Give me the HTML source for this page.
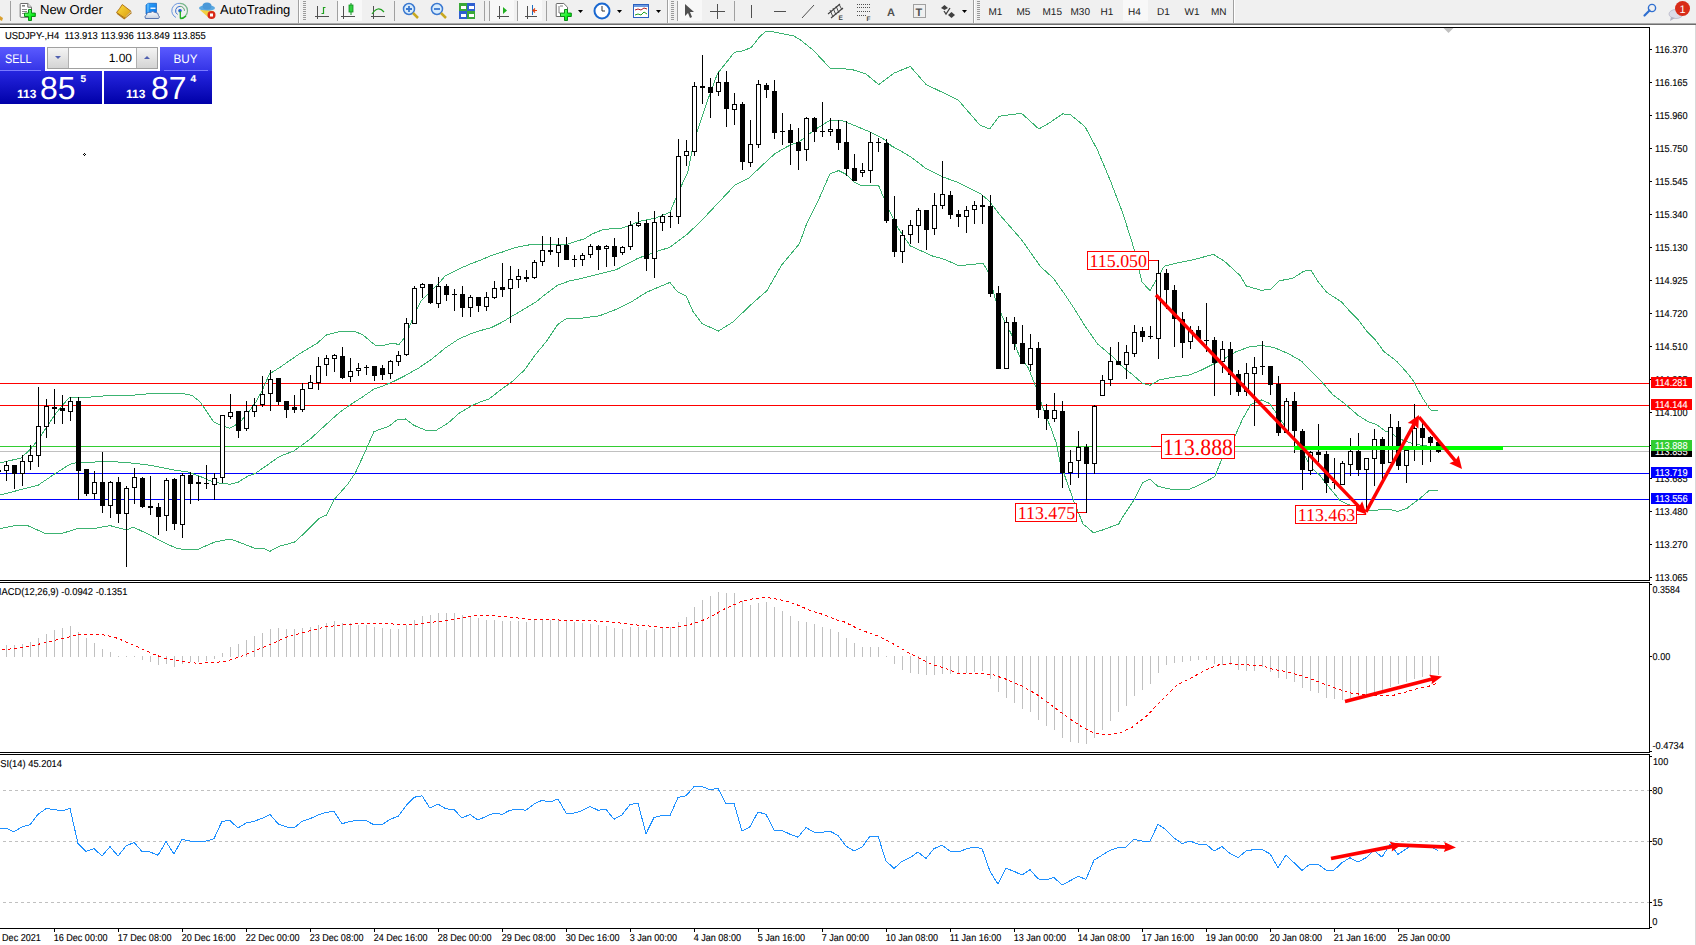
<!DOCTYPE html><html><head><meta charset="utf-8"><title>MT4 USDJPY H4</title>
<style>html,body{margin:0;padding:0;background:#fff;}body{width:1696px;height:945px;overflow:hidden;position:relative;font-family:"Liberation Sans",sans-serif;}svg{position:absolute;left:0;top:0;display:block;}text{white-space:pre;text-rendering:geometricPrecision;}</style>
</head><body>
<svg width="1696" height="945" viewBox="0 0 1696 945">
<rect x="0" y="0" width="1696" height="23" fill="#f0f0f0" />
<rect x="0" y="23" width="1696" height="1" fill="#a8a8a8" />
<rect x="0" y="24" width="1696" height="1" fill="#6e6e6e" />
<g id="toolbar">
<!-- cut icon at far left -->
<path d="M0,16 L3,18 L2,21 L0,20 Z" fill="#d9a030"/>
<!-- separators -->
<g shape-rendering="crispEdges" fill="#a0a0a0">
<rect x="10" y="1" width="1" height="20"/>
<rect x="298" y="0" width="1" height="23"/><rect x="299" y="0" width="1" height="23" fill="#fff"/>
<rect x="337" y="1" width="1" height="20"/>
<rect x="394" y="1" width="1" height="20"/>
<rect x="484" y="1" width="1" height="20"/>
<rect x="489" y="1" width="1" height="20"/>
<rect x="517" y="1" width="1" height="20"/>
<rect x="546" y="1" width="1" height="20"/>
<rect x="667" y="0" width="1" height="23"/><rect x="668" y="0" width="1" height="23" fill="#fff"/>
<rect x="677" y="1" width="1" height="20"/>
<rect x="734" y="1" width="1" height="20"/>
<rect x="973" y="0" width="1" height="23"/><rect x="974" y="0" width="1" height="23" fill="#fff"/>
<rect x="1233" y="0" width="1" height="23"/><rect x="1234" y="0" width="1" height="23" fill="#fff"/>
</g>
<!-- grips -->
<g fill="#9a9a9a" shape-rendering="crispEdges">
<rect x="303" y="1" width="3" height="1"/><rect x="303" y="3" width="3" height="1"/><rect x="303" y="5" width="3" height="1"/><rect x="303" y="7" width="3" height="1"/><rect x="303" y="9" width="3" height="1"/><rect x="303" y="11" width="3" height="1"/><rect x="303" y="13" width="3" height="1"/><rect x="303" y="15" width="3" height="1"/><rect x="303" y="17" width="3" height="1"/><rect x="303" y="19" width="3" height="1"/>
<rect x="671" y="1" width="3" height="1"/><rect x="671" y="3" width="3" height="1"/><rect x="671" y="5" width="3" height="1"/><rect x="671" y="7" width="3" height="1"/><rect x="671" y="9" width="3" height="1"/><rect x="671" y="11" width="3" height="1"/><rect x="671" y="13" width="3" height="1"/><rect x="671" y="15" width="3" height="1"/><rect x="671" y="17" width="3" height="1"/><rect x="671" y="19" width="3" height="1"/>
<rect x="977" y="1" width="3" height="1"/><rect x="977" y="3" width="3" height="1"/><rect x="977" y="5" width="3" height="1"/><rect x="977" y="7" width="3" height="1"/><rect x="977" y="9" width="3" height="1"/><rect x="977" y="11" width="3" height="1"/><rect x="977" y="13" width="3" height="1"/><rect x="977" y="15" width="3" height="1"/><rect x="977" y="17" width="3" height="1"/><rect x="977" y="19" width="3" height="1"/>
</g>
<!-- selected (checked) button backgrounds -->
<g fill="#f8f8f8" shape-rendering="crispEdges">
<rect x="338" y="0" width="24" height="21"/>
<rect x="490" y="0" width="24" height="21"/>
<rect x="518" y="0" width="24" height="21"/>
<rect x="678" y="0" width="24" height="21"/>
<rect x="1123" y="0" width="25" height="21"/>
</g>

<!-- New Order icon -->
<defs>
<linearGradient id="gplus" x1="0" y1="0" x2="1" y2="1"><stop offset="0" stop-color="#8cff8c"/><stop offset="0.6" stop-color="#10f020"/><stop offset="1" stop-color="#00c010"/></linearGradient>
<linearGradient id="gbook" x1="0" y1="0" x2="1" y2="1"><stop offset="0" stop-color="#ffe040"/><stop offset="1" stop-color="#d89a10"/></linearGradient>
<linearGradient id="gsrv" x1="0" y1="0" x2="1" y2="1"><stop offset="0" stop-color="#30a8ff"/><stop offset="1" stop-color="#0a70e0"/></linearGradient>
<linearGradient id="gcloud" x1="0" y1="0" x2="0" y2="1"><stop offset="0" stop-color="#ffffff"/><stop offset="1" stop-color="#c8d0e0"/></linearGradient>
</defs>
<path d="M21,3.5 h6.8 l3.7,3.7 v9.3 a0.8,0.8 0 0 1 -0.8,0.8 h-9.7 a0.8,0.8 0 0 1 -0.8,-0.8 v-12.2 a0.8,0.8 0 0 1 0.8,-0.8 z" fill="#fff" stroke="#6a6a6a" stroke-width="1"/>
<path d="M27.8,3.5 v3.7 h3.7" fill="#e8e8e8" stroke="#6a6a6a" stroke-width="1"/>
<rect x="22" y="5" width="3" height="1.6" fill="#808080"/>
<rect x="22" y="9" width="5" height="1" fill="#8a8a8a"/><rect x="22" y="11" width="5" height="1" fill="#8a8a8a"/><rect x="22" y="13" width="3" height="1" fill="#8a8a8a"/>
<path d="M28.5,9.5 h3 v3.6 h3.8 v3.4 h-3.8 v4 h-3 v-4 h-4 v-3.4 h4 z" fill="url(#gplus)" stroke="#0a8a14" stroke-width="1"/>
<text x="40" y="14.2" font-family="Liberation Sans" font-size="13" fill="#000">New Order</text>

<!-- yellow book icon -->
<path d="M116.5,12.5 Q119.5,9 122.3,4.5 L131,11.3 Q128,14.5 125,18.2 Z" fill="url(#gbook)" stroke="#a86a10" stroke-width="0.9"/>
<path d="M117,13.2 L124.2,18.8 L131.6,12.6" fill="none" stroke="#b07818" stroke-width="1.1"/>
<path d="M125.5,17 L130.5,12.2" stroke="#f0e0a0" stroke-width="0.8"/>
<!-- server/cloud icon -->
<path d="M146,5 L148,3.3 L156.5,3.3 L156.5,14 L146,14 Z" fill="url(#gsrv)" stroke="#1060c0" stroke-width="0.7"/>
<path d="M148,3.3 V12" stroke="#9ad8ff" stroke-width="0.8"/>
<rect x="150.5" y="7.5" width="5" height="1.5" fill="#e8f4ff"/>
<path d="M145.5,18.5 Q143.8,16 146.5,15 Q147,11.5 150.5,12.5 Q152.5,10.5 155,12.5 Q158.5,12 158.5,15.5 Q160.5,17 158.5,18.5 Z" fill="url(#gcloud)" stroke="#4a6aa8" stroke-width="0.9"/>
<!-- radio icon -->
<path d="M176,17.5 A7.5,7.5 0 0 1 180,3.3" fill="none" stroke="#4a80d8" stroke-width="1" opacity="0.8"/>
<path d="M177.5,14.5 A4.5,4.5 0 0 1 180,6.3" fill="none" stroke="#3a70d0" stroke-width="1"/>
<path d="M180,3.3 A7.5,7.5 0 0 1 187.5,10.8 A7.5,7.5 0 0 1 180.5,18.3" fill="none" stroke="#6ab080" stroke-width="1.2" opacity="0.9"/>
<path d="M180,6.3 A4.5,4.5 0 0 1 184.5,10.8" fill="none" stroke="#5aa070" stroke-width="1"/>
<circle cx="180" cy="10.8" r="1.8" fill="#2060d0"/>
<path d="M180.3,11 V18.6 M180.3,18.6 A7.8,7.8 0 0 0 186,16" fill="none" stroke="#20b020" stroke-width="1.3"/>
<!-- autotrading icon -->
<ellipse cx="207" cy="8" rx="8" ry="3" fill="#5aa8e0"/>
<ellipse cx="207" cy="6" rx="4.5" ry="3.5" fill="#4a98d8"/>
<path d="M200,10 L209,18 L214,11 Z" fill="#f0d040"/>
<circle cx="211.5" cy="15" r="4" fill="#d82818"/>
<rect x="210" y="13.5" width="3" height="3" fill="#fff"/>
<text x="220" y="14.2" font-family="Liberation Sans" font-size="13" fill="#000">AutoTrading</text>

<!-- bar chart icon -->
<g fill="none" stroke="#505050" stroke-width="1" shape-rendering="crispEdges">
<path d="M317.5,6 v13 M315,16.5 h14"/>
<path d="M343.5,6 v13 M341,16.5 h14"/>
<path d="M373.5,6 v13 M371,16.5 h14"/>
<path d="M499.5,6 v13 M497,16.5 h12"/>
<path d="M527.5,6 v13 M525,16.5 h12"/>
</g>
<path d="M321.5,13.5 h2 v-6 h2" fill="none" stroke="#20a020" stroke-width="1.2"/>
<rect x="349" y="5" width="4" height="7" fill="#30d040" stroke="#109020" stroke-width="0.8"/>
<path d="M351,3 v2 M351,12 v3" stroke="#109020" stroke-width="1"/>
<path d="M372,14 Q378,5 384,12" fill="none" stroke="#20a020" stroke-width="1.2"/>
<path d="M503,7 L507,10.5 L503,14 Z" fill="#20b020"/>
<path d="M532.5,5 v10" stroke="#2070c0" stroke-width="1"/>
<path d="M537,10.5 L533,10.5 M535,8.5 L533,10.5 L535,12.5" fill="none" stroke="#e04010" stroke-width="1.2"/>

<!-- zoom icons -->
<circle cx="409" cy="9" r="5.5" fill="#d8ecfc" stroke="#3a78d0" stroke-width="1.5"/>
<path d="M406,9 h6 M409,6 v6" stroke="#3a78d0" stroke-width="1.8"/>
<path d="M413,13 L418,18" stroke="#c8a820" stroke-width="2.5"/>
<circle cx="437" cy="9" r="5.5" fill="#d8ecfc" stroke="#3a78d0" stroke-width="1.5"/>
<path d="M434,9 h6" stroke="#3a78d0" stroke-width="1.8"/>
<path d="M441,13 L446,18" stroke="#c8a820" stroke-width="2.5"/>

<!-- tile icon -->
<rect x="459" y="3" width="8" height="8" fill="#3aa838"/><rect x="467" y="3" width="8" height="8" fill="#2f5fd0"/>
<rect x="459" y="11" width="8" height="8" fill="#2f5fd0"/><rect x="467" y="11" width="8" height="8" fill="#3aa838"/>
<g fill="#fff"><rect x="461" y="6" width="5" height="3"/><rect x="469" y="6" width="5" height="3"/><rect x="461" y="14" width="5" height="3"/><rect x="469" y="14" width="5" height="3"/></g>

<!-- indicators icon -->
<path d="M557,3.5 h6.8 l3.7,3.7 v9.3 h-11.3 v-12.2 a0.8,0.8 0 0 1 0.8,-0.8 z" fill="#fff" stroke="#6a6a6a" stroke-width="1"/>
<path d="M559,6 v7 h1.5 M560,6 h3" fill="none" stroke="#707070" stroke-width="0.9"/>
<path d="M564.5,9.5 h3 v3.6 h3.8 v3.4 h-3.8 v4 h-3 v-4 h-4 v-3.4 h4 z" fill="url(#gplus)" stroke="#0a8a14" stroke-width="1"/>
<path d="M578,10 h5 l-2.5,3 z" fill="#000"/>
<!-- clock -->
<circle cx="602" cy="11" r="7.5" fill="#fff" stroke="#1a68d0" stroke-width="2"/>
<path d="M602,6 v5 h3" fill="none" stroke="#333" stroke-width="1"/>
<path d="M617,10 h5 l-2.5,3 z" fill="#000"/>
<!-- templates -->
<rect x="633.5" y="4.5" width="15" height="13" fill="#fff" stroke="#2a60c0" stroke-width="1"/>
<rect x="634" y="5" width="14" height="2" fill="#6a9ae0"/>
<path d="M635,10 l3,-1 l3,1 l3,-2 l3,1" fill="none" stroke="#b02020" stroke-width="1"/>
<path d="M635,15 l3,-1 l3,1 l3,-3 l3,2" fill="none" stroke="#20a020" stroke-width="1"/>
<path d="M656,10 h5 l-2.5,3 z" fill="#000"/>

<!-- cursor -->
<path d="M685,4 L685,16 L688,13 L690,18 L692,17 L690,12 L694,12 Z" fill="#505050"/>
<!-- crosshair -->
<path d="M717.5,4 v15 M710,11.5 h15" stroke="#505050" stroke-width="1" shape-rendering="crispEdges"/>
<!-- vline, hline, trendline -->
<path d="M751.5,5 v13" stroke="#505050" stroke-width="1" shape-rendering="crispEdges"/>
<path d="M774,11.5 h12" stroke="#505050" stroke-width="1" shape-rendering="crispEdges"/>
<path d="M802,18 L814,5" stroke="#505050" stroke-width="1"/>
<!-- channel E -->
<path d="M828,14 L840,4 M831,18 L843,8" stroke="#404040" stroke-width="1.1"/>
<path d="M830,10 L833,17 M833,8 L836,15 M836,6 L839,13 M839,4 L842,10" stroke="#404040" stroke-width="0.9"/>
<text x="838.5" y="20" font-family="Liberation Sans" font-size="6.5" font-weight="bold" fill="#404040">E</text>
<!-- fibo F -->
<g fill="#505050" shape-rendering="crispEdges">
<rect x="857" y="4" width="1" height="1"/><rect x="859" y="4" width="1" height="1"/><rect x="861" y="4" width="1" height="1"/><rect x="863" y="4" width="1" height="1"/><rect x="865" y="4" width="1" height="1"/><rect x="867" y="4" width="1" height="1"/><rect x="869" y="4" width="1" height="1"/>
<rect x="857" y="7" width="1" height="1"/><rect x="859" y="7" width="1" height="1"/><rect x="861" y="7" width="1" height="1"/><rect x="863" y="7" width="1" height="1"/><rect x="865" y="7" width="1" height="1"/><rect x="867" y="7" width="1" height="1"/><rect x="869" y="7" width="1" height="1"/>
<rect x="857" y="11" width="1" height="1"/><rect x="859" y="11" width="1" height="1"/><rect x="861" y="11" width="1" height="1"/><rect x="863" y="11" width="1" height="1"/><rect x="865" y="11" width="1" height="1"/><rect x="867" y="11" width="1" height="1"/><rect x="869" y="11" width="1" height="1"/>
<rect x="857" y="15" width="1" height="1"/><rect x="859" y="15" width="1" height="1"/><rect x="861" y="15" width="1" height="1"/><rect x="863" y="15" width="1" height="1"/><rect x="865" y="15" width="1" height="1"/>
</g>
<text x="866.5" y="20.5" font-family="Liberation Sans" font-size="6.5" font-weight="bold" fill="#404040">F</text>
<!-- A -->
<text x="887" y="16" font-family="Liberation Sans" font-size="11" font-weight="bold" fill="#505050">A</text>
<!-- T box -->
<rect x="913.5" y="4.5" width="12" height="13" fill="none" stroke="#505050" stroke-width="1" stroke-dasharray="1 1"/>
<text x="915.5" y="16" font-family="Liberation Sans" font-size="11" font-weight="bold" fill="#505050">T</text>
<!-- arrows icon -->
<path d="M941,8 L944.5,5 L948,8 L944.5,10 Z" fill="#404040"/>
<path d="M944,11 L946,14 L950,8" fill="none" stroke="#404040" stroke-width="1.3"/>
<path d="M948,15 L951.5,12 L955,15 L951.5,18 Z" fill="#404040"/>
<path d="M962,10 h5 l-2.5,3 z" fill="#000"/>

<!-- timeframes -->
<g font-family="Liberation Sans" font-size="10" fill="#202020">
<text x="988.5" y="15">M1</text>
<text x="1016.5" y="15">M5</text>
<text x="1042.5" y="15">M15</text>
<text x="1070.5" y="15">M30</text>
<text x="1100.5" y="15">H1</text>
<text x="1128" y="15">H4</text>
<text x="1157" y="15">D1</text>
<text x="1184.5" y="15">W1</text>
<text x="1211" y="15">MN</text>
</g>

<!-- search icon -->
<circle cx="1652" cy="8" r="3.6" fill="none" stroke="#2f6fd0" stroke-width="1.4"/>
<path d="M1649.5,10.5 L1644.5,15.5" stroke="#2f6fd0" stroke-width="2.2" stroke-linecap="round"/>
<!-- notification bubble -->
<ellipse cx="1676" cy="14" rx="7" ry="4.5" fill="#dcdce8" stroke="#b8b8c8" stroke-width="0.8"/>
<path d="M1671,17 L1670,21 L1675,18 Z" fill="#b0b0c0"/>
<circle cx="1682.5" cy="8.5" r="7.5" fill="#d82c18"/>
<text x="1682.5" y="13" font-family="Liberation Sans" font-size="11" fill="#fff" text-anchor="middle">1</text>
</g>

<rect x="1695" y="25" width="1" height="920" fill="#d9d9d9" />
<g shape-rendering="crispEdges">
<rect x="0" y="27" width="1650" height="1" fill="#000"/>
<rect x="1649" y="27" width="1" height="554" fill="#000"/>
<rect x="1649" y="582" width="1" height="171" fill="#000"/>
<rect x="1649" y="754" width="1" height="175" fill="#000"/>
<rect x="0" y="580" width="1650" height="1" fill="#000"/>
<rect x="0" y="582" width="1650" height="1" fill="#000"/>
<rect x="0" y="752" width="1650" height="1" fill="#000"/>
<rect x="0" y="754" width="1650" height="1" fill="#000"/>
<rect x="0" y="928" width="1650" height="1" fill="#000"/>
<rect x="0" y="383" width="1649" height="1" fill="#ff0000"/>
<rect x="0" y="405" width="1649" height="1" fill="#ff0000"/>
<rect x="0" y="446" width="1649" height="1" fill="#32cd32"/>
<rect x="0" y="451" width="1649" height="1" fill="#c0c0c0"/>
<rect x="0" y="473" width="1649" height="1" fill="#0000ff"/>
<rect x="0" y="499" width="1649" height="1" fill="#0000ff"/>
</g>
<polygon points="1443.5,28 1453.5,28 1448.5,33" fill="#c0c0c0"/>
<g shape-rendering="crispEdges"><rect x="84" y="153" width="1" height="1" fill="#000"/><rect x="83" y="154" width="1" height="1" fill="#000"/><rect x="85" y="154" width="1" height="1" fill="#000"/><rect x="84" y="155" width="1" height="1" fill="#000"/></g>
<g shape-rendering="crispEdges">
<polyline points="0.0,463.0 21.0,458.0 29.6,450.0 38.0,440.0 46.6,427.0 55.0,414.4 63.5,404.0 70.0,397.0 91.0,397.0 110.0,395.4 131.0,395.4 152.0,393.5 181.7,393.3 192.0,395.4 200.0,401.7 207.0,412.0 213.5,421.8 220.0,425.0 230.0,428.2 239.0,423.0 247.0,414.4 256.0,401.7 262.0,391.0 269.5,373.8 279.0,368.0 298.0,354.8 317.0,343.3 326.7,334.8 340.0,331.5 355.0,331.5 362.9,334.8 370.5,341.4 376.0,345.8 383.0,345.6 392.0,343.3 399.0,344.4 405.5,336.7 414.4,314.4 421.0,301.0 427.8,294.4 436.7,285.6 445.5,275.6 459.0,268.9 472.0,263.3 481.0,260.0 491.0,255.6 502.0,252.2 513.0,248.2 524.4,245.6 535.6,244.0 546.7,244.0 557.8,244.4 566.7,244.4 573.0,242.2 584.4,238.9 592.0,234.0 603.4,229.4 623.2,227.9 639.4,221.3 655.5,218.2 669.9,212.3 677.1,195.2 682.5,183.5 687.9,171.8 693.7,142.3 698.5,127.4 707.0,102.0 717.5,73.5 726.0,62.9 734.4,52.3 742.9,50.8 751.3,47.5 759.8,36.5 766.0,31.2 770.4,31.2 783.0,33.9 793.7,36.0 800.0,39.6 813.0,50.0 830.0,68.0 843.0,68.6 853.5,70.0 866.0,74.0 878.6,84.6 894.4,72.9 910.3,66.5 926.2,84.6 958.0,99.8 980.0,125.2 989.7,129.0 999.2,116.3 1021.4,113.2 1038.9,129.0 1050.0,122.5 1062.7,113.8 1070.6,114.8 1084.9,126.5 1097.6,150.3 1110.3,180.5 1123.0,213.8 1134.0,248.7 1142.0,282.0 1150.0,290.6 1164.3,266.2 1177.0,263.0 1192.9,259.8 1213.5,254.4 1224.6,261.4 1240.0,275.5 1246.4,286.1 1261.2,290.3 1270.7,289.3 1279.2,280.8 1292.9,278.3 1303.5,271.3 1310.9,270.2 1318.3,281.9 1326.8,292.4 1341.6,302.0 1350.0,311.5 1358.5,320.0 1367.0,331.6 1375.5,340.1 1384.0,351.7 1396.6,361.2 1407.2,372.9 1413.6,381.4 1422.0,397.2 1430.5,409.9 1438.0,411.0" fill="none" stroke="#3cb371" stroke-width="1" />
<polyline points="0.0,495.0 21.0,489.6 38.0,485.3 55.0,473.7 70.0,464.2 75.0,463.0 95.0,462.0 110.0,461.4 131.0,463.0 150.0,465.2 171.0,469.5 188.0,472.0 200.0,476.3 212.7,481.9 220.6,483.2 230.2,484.3 238.1,482.2 247.6,476.3 255.6,473.2 268.3,464.4 279.4,456.5 293.7,451.0 301.6,445.4 311.1,438.3 320.6,429.5 330.2,420.8 340.0,412.0 351.4,404.0 362.9,396.7 374.0,389.0 381.0,386.7 392.0,382.2 405.5,375.5 419.0,367.8 432.0,358.9 445.5,347.8 459.0,338.9 472.0,333.3 481.0,330.4 491.0,327.8 502.0,322.2 513.0,315.6 524.4,308.9 535.6,302.2 546.7,293.3 557.8,285.1 569.0,281.1 580.0,278.8 598.0,274.3 616.0,269.8 637.6,258.5 655.5,251.8 669.9,247.3 687.9,233.8 705.9,215.9 734.7,185.3 749.0,178.1 759.8,167.6 774.6,153.9 787.3,146.5 800.0,141.2 815.4,129.3 830.0,120.2 843.0,120.9 853.5,125.1 870.4,132.1 883.0,138.4 891.5,146.0 900.0,150.5 911.0,157.0 926.0,168.6 943.0,177.0 957.7,182.3 981.0,194.0 989.4,201.3 1000.0,215.1 1021.4,239.5 1040.5,266.5 1053.5,278.5 1064.0,293.3 1074.6,309.1 1085.0,326.0 1097.6,344.0 1111.2,355.4 1121.7,366.0 1132.3,374.4 1141.9,382.9 1149.9,385.4 1159.8,379.7 1174.7,377.0 1189.5,374.9 1200.0,370.7 1212.7,364.4 1225.4,358.1 1236.0,351.7 1248.7,347.1 1261.4,345.4 1274.0,347.5 1288.9,353.9 1301.6,361.3 1314.3,374.0 1320.4,380.3 1333.1,395.1 1340.0,400.0 1346.8,405.5 1357.8,415.1 1367.4,421.3 1377.0,424.8 1385.3,431.0 1390.8,432.3 1396.3,437.4 1405.2,441.1 1414.0,444.0 1423.0,445.6 1438.0,447.0" fill="none" stroke="#3cb371" stroke-width="1" />
<polyline points="0.0,528.7 15.0,525.6 27.5,525.6 46.6,534.0 63.5,533.0 78.0,528.3 95.0,528.3 110.0,525.6 127.0,530.0 133.0,527.0 148.0,534.0 162.7,541.9 177.5,548.8 196.6,549.9 214.3,542.2 230.2,539.0 241.3,543.0 254.8,548.3 263.5,548.3 269.8,551.4 279.4,546.2 294.4,542.2 303.2,534.3 319.0,518.4 326.2,515.2 334.9,498.6 347.6,484.3 355.6,472.4 365.1,451.7 373.8,431.9 379.4,429.5 388.9,426.3 396.8,420.0 405.5,418.9 414.4,425.6 427.8,431.0 436.7,430.0 447.8,423.3 459.0,413.3 472.0,405.6 481.0,401.6 489.0,398.9 502.0,388.9 513.0,381.0 524.4,370.0 535.6,354.4 546.7,341.1 557.8,324.4 566.7,318.4 580.0,318.4 599.8,315.7 616.0,309.4 632.2,301.3 646.5,292.3 659.1,286.9 669.9,282.4 677.1,291.4 686.1,295.9 693.3,312.1 702.3,323.8 718.5,331.0 732.9,322.0 752.7,303.1 767.1,290.5 781.4,265.3 799.4,243.7 806.6,224.0 817.4,202.4 830.0,173.7 838.7,170.6 847.0,174.8 853.4,181.7 862.4,186.0 878.6,185.6 888.0,207.8 898.5,228.9 910.3,245.9 932.5,256.0 945.0,259.5 958.0,265.4 970.4,264.8 983.0,263.0 988.4,272.2 995.8,300.8 1002.7,317.6 1011.0,333.5 1019.6,356.7 1028.0,367.3 1036.5,388.5 1045.0,413.9 1051.3,429.0 1056.4,443.5 1059.6,460.4 1066.0,479.4 1074.4,502.7 1083.0,523.9 1093.5,532.7 1102.0,530.2 1118.8,523.9 1121.7,518.4 1134.4,499.3 1142.9,482.4 1149.9,479.2 1157.7,486.2 1170.4,489.2 1189.5,489.2 1200.0,484.7 1214.8,476.6 1223.3,455.4 1233.9,438.5 1242.3,419.5 1250.8,404.7 1261.4,400.0 1269.8,403.6 1276.2,413.1 1284.7,425.8 1293.1,438.5 1301.6,451.2 1312.2,468.1 1320.0,475.6 1327.5,485.3 1339.9,500.4 1348.9,504.8 1366.7,510.7 1388.9,509.3 1397.8,511.5 1406.7,508.5 1418.5,499.6 1428.9,490.7 1438.0,490.4" fill="none" stroke="#3cb371" stroke-width="1" />
</g>
<g shape-rendering="crispEdges">
<rect x="-2" y="470" width="1" height="2" fill="#000"/>
<rect x="-4" y="470" width="5" height="2" fill="#000"/>
<rect x="6" y="461" width="1" height="20" fill="#000"/>
<rect x="4" y="465" width="5" height="6" fill="#000"/>
<rect x="5" y="466" width="3" height="4" fill="#fff"/>
<rect x="14" y="465" width="1" height="24" fill="#000"/>
<rect x="12" y="465" width="5" height="9" fill="#000"/>
<rect x="22" y="455" width="1" height="31" fill="#000"/>
<rect x="20" y="461" width="5" height="13" fill="#000"/>
<rect x="21" y="462" width="3" height="11" fill="#fff"/>
<rect x="30" y="445" width="1" height="25" fill="#000"/>
<rect x="28" y="455" width="5" height="7" fill="#000"/>
<rect x="29" y="456" width="3" height="5" fill="#fff"/>
<rect x="38" y="387" width="1" height="80" fill="#000"/>
<rect x="36" y="426" width="5" height="30" fill="#000"/>
<rect x="37" y="427" width="3" height="28" fill="#fff"/>
<rect x="46" y="399" width="1" height="39" fill="#000"/>
<rect x="44" y="406" width="5" height="21" fill="#000"/>
<rect x="45" y="407" width="3" height="19" fill="#fff"/>
<rect x="54" y="389" width="1" height="35" fill="#000"/>
<rect x="52" y="407" width="5" height="2" fill="#000"/>
<rect x="62" y="395" width="1" height="29" fill="#000"/>
<rect x="60" y="408" width="5" height="3" fill="#000"/>
<rect x="70" y="397" width="1" height="24" fill="#000"/>
<rect x="68" y="401" width="5" height="11" fill="#000"/>
<rect x="69" y="402" width="3" height="9" fill="#fff"/>
<rect x="78" y="397" width="1" height="103" fill="#000"/>
<rect x="76" y="401" width="5" height="70" fill="#000"/>
<rect x="86" y="469" width="1" height="27" fill="#000"/>
<rect x="84" y="469" width="5" height="25" fill="#000"/>
<rect x="94" y="471" width="1" height="28" fill="#000"/>
<rect x="92" y="482" width="5" height="12" fill="#000"/>
<rect x="93" y="483" width="3" height="10" fill="#fff"/>
<rect x="102" y="452" width="1" height="61" fill="#000"/>
<rect x="100" y="482" width="5" height="24" fill="#000"/>
<rect x="110" y="481" width="1" height="37" fill="#000"/>
<rect x="108" y="482" width="5" height="24" fill="#000"/>
<rect x="109" y="483" width="3" height="22" fill="#fff"/>
<rect x="118" y="477" width="1" height="46" fill="#000"/>
<rect x="116" y="482" width="5" height="32" fill="#000"/>
<rect x="126" y="486" width="1" height="81" fill="#000"/>
<rect x="124" y="488" width="5" height="26" fill="#000"/>
<rect x="125" y="489" width="3" height="24" fill="#fff"/>
<rect x="134" y="468" width="1" height="36" fill="#000"/>
<rect x="132" y="477" width="5" height="11" fill="#000"/>
<rect x="133" y="478" width="3" height="9" fill="#fff"/>
<rect x="142" y="477" width="1" height="31" fill="#000"/>
<rect x="140" y="478" width="5" height="29" fill="#000"/>
<rect x="150" y="476" width="1" height="39" fill="#000"/>
<rect x="148" y="506" width="5" height="2" fill="#000"/>
<rect x="158" y="503" width="1" height="32" fill="#000"/>
<rect x="156" y="507" width="5" height="10" fill="#000"/>
<rect x="166" y="478" width="1" height="53" fill="#000"/>
<rect x="164" y="480" width="5" height="36" fill="#000"/>
<rect x="165" y="481" width="3" height="34" fill="#fff"/>
<rect x="174" y="478" width="1" height="52" fill="#000"/>
<rect x="172" y="479" width="5" height="45" fill="#000"/>
<rect x="182" y="473" width="1" height="65" fill="#000"/>
<rect x="180" y="475" width="5" height="50" fill="#000"/>
<rect x="181" y="476" width="3" height="48" fill="#fff"/>
<rect x="190" y="472" width="1" height="32" fill="#000"/>
<rect x="188" y="475" width="5" height="9" fill="#000"/>
<rect x="198" y="476" width="1" height="25" fill="#000"/>
<rect x="196" y="482" width="5" height="2" fill="#000"/>
<rect x="206" y="465" width="1" height="24" fill="#000"/>
<rect x="204" y="483" width="5" height="1" fill="#000"/>
<rect x="214" y="473" width="1" height="27" fill="#000"/>
<rect x="212" y="478" width="5" height="7" fill="#000"/>
<rect x="213" y="479" width="3" height="5" fill="#fff"/>
<rect x="222" y="415" width="1" height="68" fill="#000"/>
<rect x="220" y="415" width="5" height="63" fill="#000"/>
<rect x="221" y="416" width="3" height="61" fill="#fff"/>
<rect x="230" y="394" width="1" height="25" fill="#000"/>
<rect x="228" y="412" width="5" height="5" fill="#000"/>
<rect x="229" y="413" width="3" height="3" fill="#fff"/>
<rect x="238" y="411" width="1" height="27" fill="#000"/>
<rect x="236" y="411" width="5" height="20" fill="#000"/>
<rect x="246" y="401" width="1" height="30" fill="#000"/>
<rect x="244" y="411" width="5" height="18" fill="#000"/>
<rect x="245" y="412" width="3" height="16" fill="#fff"/>
<rect x="254" y="398" width="1" height="19" fill="#000"/>
<rect x="252" y="405" width="5" height="7" fill="#000"/>
<rect x="253" y="406" width="3" height="5" fill="#fff"/>
<rect x="262" y="376" width="1" height="31" fill="#000"/>
<rect x="260" y="394" width="5" height="11" fill="#000"/>
<rect x="261" y="395" width="3" height="9" fill="#fff"/>
<rect x="270" y="370" width="1" height="41" fill="#000"/>
<rect x="268" y="379" width="5" height="15" fill="#000"/>
<rect x="269" y="380" width="3" height="13" fill="#fff"/>
<rect x="278" y="378" width="1" height="27" fill="#000"/>
<rect x="276" y="378" width="5" height="24" fill="#000"/>
<rect x="286" y="401" width="1" height="17" fill="#000"/>
<rect x="284" y="401" width="5" height="9" fill="#000"/>
<rect x="294" y="395" width="1" height="18" fill="#000"/>
<rect x="292" y="407" width="5" height="3" fill="#000"/>
<rect x="302" y="383" width="1" height="29" fill="#000"/>
<rect x="300" y="389" width="5" height="21" fill="#000"/>
<rect x="301" y="390" width="3" height="19" fill="#fff"/>
<rect x="310" y="375" width="1" height="14" fill="#000"/>
<rect x="308" y="382" width="5" height="7" fill="#000"/>
<rect x="309" y="383" width="3" height="5" fill="#fff"/>
<rect x="318" y="357" width="1" height="33" fill="#000"/>
<rect x="316" y="366" width="5" height="17" fill="#000"/>
<rect x="317" y="367" width="3" height="15" fill="#fff"/>
<rect x="326" y="355" width="1" height="21" fill="#000"/>
<rect x="324" y="358" width="5" height="7" fill="#000"/>
<rect x="325" y="359" width="3" height="5" fill="#fff"/>
<rect x="334" y="354" width="1" height="18" fill="#000"/>
<rect x="332" y="355" width="5" height="4" fill="#000"/>
<rect x="333" y="356" width="3" height="2" fill="#fff"/>
<rect x="342" y="347" width="1" height="32" fill="#000"/>
<rect x="340" y="356" width="5" height="22" fill="#000"/>
<rect x="350" y="358" width="1" height="24" fill="#000"/>
<rect x="348" y="371" width="5" height="6" fill="#000"/>
<rect x="349" y="372" width="3" height="4" fill="#fff"/>
<rect x="358" y="363" width="1" height="13" fill="#000"/>
<rect x="356" y="368" width="5" height="3" fill="#000"/>
<rect x="357" y="369" width="3" height="1" fill="#fff"/>
<rect x="366" y="365" width="1" height="10" fill="#000"/>
<rect x="364" y="367" width="5" height="1" fill="#000"/>
<rect x="374" y="366" width="1" height="15" fill="#000"/>
<rect x="372" y="366" width="5" height="10" fill="#000"/>
<rect x="382" y="365" width="1" height="15" fill="#000"/>
<rect x="380" y="368" width="5" height="7" fill="#000"/>
<rect x="390" y="360" width="1" height="19" fill="#000"/>
<rect x="388" y="361" width="5" height="13" fill="#000"/>
<rect x="389" y="362" width="3" height="11" fill="#fff"/>
<rect x="398" y="351" width="1" height="15" fill="#000"/>
<rect x="396" y="355" width="5" height="7" fill="#000"/>
<rect x="397" y="356" width="3" height="5" fill="#fff"/>
<rect x="406" y="318" width="1" height="38" fill="#000"/>
<rect x="404" y="323" width="5" height="32" fill="#000"/>
<rect x="405" y="324" width="3" height="30" fill="#fff"/>
<rect x="414" y="286" width="1" height="38" fill="#000"/>
<rect x="412" y="288" width="5" height="36" fill="#000"/>
<rect x="413" y="289" width="3" height="34" fill="#fff"/>
<rect x="422" y="283" width="1" height="15" fill="#000"/>
<rect x="420" y="284" width="5" height="4" fill="#000"/>
<rect x="421" y="285" width="3" height="2" fill="#fff"/>
<rect x="430" y="284" width="1" height="20" fill="#000"/>
<rect x="428" y="284" width="5" height="19" fill="#000"/>
<rect x="438" y="277" width="1" height="31" fill="#000"/>
<rect x="436" y="286" width="5" height="18" fill="#000"/>
<rect x="437" y="287" width="3" height="16" fill="#fff"/>
<rect x="446" y="284" width="1" height="17" fill="#000"/>
<rect x="444" y="286" width="5" height="9" fill="#000"/>
<rect x="454" y="289" width="1" height="22" fill="#000"/>
<rect x="452" y="294" width="5" height="1" fill="#000"/>
<rect x="462" y="286" width="1" height="31" fill="#000"/>
<rect x="460" y="294" width="5" height="14" fill="#000"/>
<rect x="470" y="295" width="1" height="22" fill="#000"/>
<rect x="468" y="297" width="5" height="11" fill="#000"/>
<rect x="469" y="298" width="3" height="9" fill="#fff"/>
<rect x="478" y="297" width="1" height="15" fill="#000"/>
<rect x="476" y="297" width="5" height="9" fill="#000"/>
<rect x="486" y="292" width="1" height="19" fill="#000"/>
<rect x="484" y="297" width="5" height="10" fill="#000"/>
<rect x="485" y="298" width="3" height="8" fill="#fff"/>
<rect x="494" y="281" width="1" height="18" fill="#000"/>
<rect x="492" y="288" width="5" height="10" fill="#000"/>
<rect x="493" y="289" width="3" height="8" fill="#fff"/>
<rect x="502" y="263" width="1" height="34" fill="#000"/>
<rect x="500" y="287" width="5" height="3" fill="#000"/>
<rect x="510" y="266" width="1" height="57" fill="#000"/>
<rect x="508" y="279" width="5" height="10" fill="#000"/>
<rect x="509" y="280" width="3" height="8" fill="#fff"/>
<rect x="518" y="269" width="1" height="19" fill="#000"/>
<rect x="516" y="276" width="5" height="4" fill="#000"/>
<rect x="517" y="277" width="3" height="2" fill="#fff"/>
<rect x="526" y="270" width="1" height="12" fill="#000"/>
<rect x="524" y="277" width="5" height="2" fill="#000"/>
<rect x="534" y="260" width="1" height="19" fill="#000"/>
<rect x="532" y="262" width="5" height="16" fill="#000"/>
<rect x="533" y="263" width="3" height="14" fill="#fff"/>
<rect x="542" y="236" width="1" height="30" fill="#000"/>
<rect x="540" y="250" width="5" height="12" fill="#000"/>
<rect x="541" y="251" width="3" height="10" fill="#fff"/>
<rect x="550" y="237" width="1" height="18" fill="#000"/>
<rect x="548" y="250" width="5" height="2" fill="#000"/>
<rect x="558" y="238" width="1" height="29" fill="#000"/>
<rect x="556" y="245" width="5" height="8" fill="#000"/>
<rect x="557" y="246" width="3" height="6" fill="#fff"/>
<rect x="566" y="237" width="1" height="23" fill="#000"/>
<rect x="564" y="245" width="5" height="15" fill="#000"/>
<rect x="574" y="255" width="1" height="12" fill="#000"/>
<rect x="572" y="259" width="5" height="1" fill="#000"/>
<rect x="582" y="253" width="1" height="13" fill="#000"/>
<rect x="580" y="255" width="5" height="5" fill="#000"/>
<rect x="581" y="256" width="3" height="3" fill="#fff"/>
<rect x="590" y="244" width="1" height="14" fill="#000"/>
<rect x="588" y="246" width="5" height="9" fill="#000"/>
<rect x="589" y="247" width="3" height="7" fill="#fff"/>
<rect x="598" y="245" width="1" height="25" fill="#000"/>
<rect x="596" y="246" width="5" height="4" fill="#000"/>
<rect x="606" y="245" width="1" height="22" fill="#000"/>
<rect x="604" y="246" width="5" height="3" fill="#000"/>
<rect x="605" y="247" width="3" height="1" fill="#fff"/>
<rect x="614" y="238" width="1" height="28" fill="#000"/>
<rect x="612" y="246" width="5" height="11" fill="#000"/>
<rect x="622" y="246" width="1" height="9" fill="#000"/>
<rect x="620" y="247" width="5" height="6" fill="#000"/>
<rect x="621" y="248" width="3" height="4" fill="#fff"/>
<rect x="630" y="221" width="1" height="29" fill="#000"/>
<rect x="628" y="225" width="5" height="22" fill="#000"/>
<rect x="629" y="226" width="3" height="20" fill="#fff"/>
<rect x="638" y="212" width="1" height="15" fill="#000"/>
<rect x="636" y="223" width="5" height="3" fill="#000"/>
<rect x="637" y="224" width="3" height="1" fill="#fff"/>
<rect x="646" y="220" width="1" height="51" fill="#000"/>
<rect x="644" y="223" width="5" height="36" fill="#000"/>
<rect x="654" y="211" width="1" height="67" fill="#000"/>
<rect x="652" y="222" width="5" height="37" fill="#000"/>
<rect x="653" y="223" width="3" height="35" fill="#fff"/>
<rect x="662" y="214" width="1" height="17" fill="#000"/>
<rect x="660" y="216" width="5" height="7" fill="#000"/>
<rect x="661" y="217" width="3" height="5" fill="#fff"/>
<rect x="670" y="212" width="1" height="16" fill="#000"/>
<rect x="668" y="216" width="5" height="1" fill="#000"/>
<rect x="678" y="139" width="1" height="85" fill="#000"/>
<rect x="676" y="156" width="5" height="61" fill="#000"/>
<rect x="677" y="157" width="3" height="59" fill="#fff"/>
<rect x="686" y="140" width="1" height="26" fill="#000"/>
<rect x="684" y="151" width="5" height="5" fill="#000"/>
<rect x="685" y="152" width="3" height="3" fill="#fff"/>
<rect x="694" y="82" width="1" height="74" fill="#000"/>
<rect x="692" y="86" width="5" height="66" fill="#000"/>
<rect x="693" y="87" width="3" height="64" fill="#fff"/>
<rect x="702" y="55" width="1" height="49" fill="#000"/>
<rect x="700" y="86" width="5" height="2" fill="#000"/>
<rect x="710" y="78" width="1" height="40" fill="#000"/>
<rect x="708" y="87" width="5" height="6" fill="#000"/>
<rect x="718" y="72" width="1" height="24" fill="#000"/>
<rect x="716" y="82" width="5" height="10" fill="#000"/>
<rect x="717" y="83" width="3" height="8" fill="#fff"/>
<rect x="726" y="71" width="1" height="56" fill="#000"/>
<rect x="724" y="82" width="5" height="27" fill="#000"/>
<rect x="734" y="93" width="1" height="32" fill="#000"/>
<rect x="732" y="104" width="5" height="6" fill="#000"/>
<rect x="733" y="105" width="3" height="4" fill="#fff"/>
<rect x="742" y="102" width="1" height="68" fill="#000"/>
<rect x="740" y="104" width="5" height="58" fill="#000"/>
<rect x="750" y="120" width="1" height="47" fill="#000"/>
<rect x="748" y="144" width="5" height="19" fill="#000"/>
<rect x="749" y="145" width="3" height="17" fill="#fff"/>
<rect x="758" y="80" width="1" height="68" fill="#000"/>
<rect x="756" y="84" width="5" height="61" fill="#000"/>
<rect x="757" y="85" width="3" height="59" fill="#fff"/>
<rect x="766" y="83" width="1" height="15" fill="#000"/>
<rect x="764" y="85" width="5" height="5" fill="#000"/>
<rect x="774" y="80" width="1" height="59" fill="#000"/>
<rect x="772" y="91" width="5" height="42" fill="#000"/>
<rect x="782" y="113" width="1" height="32" fill="#000"/>
<rect x="780" y="131" width="5" height="1" fill="#000"/>
<rect x="790" y="124" width="1" height="41" fill="#000"/>
<rect x="788" y="130" width="5" height="13" fill="#000"/>
<rect x="798" y="128" width="1" height="42" fill="#000"/>
<rect x="796" y="142" width="5" height="9" fill="#000"/>
<rect x="806" y="117" width="1" height="44" fill="#000"/>
<rect x="804" y="118" width="5" height="32" fill="#000"/>
<rect x="805" y="119" width="3" height="30" fill="#fff"/>
<rect x="814" y="117" width="1" height="25" fill="#000"/>
<rect x="812" y="118" width="5" height="14" fill="#000"/>
<rect x="822" y="102" width="1" height="35" fill="#000"/>
<rect x="820" y="131" width="5" height="1" fill="#000"/>
<rect x="830" y="118" width="1" height="18" fill="#000"/>
<rect x="828" y="129" width="5" height="3" fill="#000"/>
<rect x="829" y="130" width="3" height="1" fill="#fff"/>
<rect x="838" y="120" width="1" height="30" fill="#000"/>
<rect x="836" y="129" width="5" height="14" fill="#000"/>
<rect x="846" y="121" width="1" height="55" fill="#000"/>
<rect x="844" y="142" width="5" height="27" fill="#000"/>
<rect x="854" y="154" width="1" height="27" fill="#000"/>
<rect x="852" y="168" width="5" height="13" fill="#000"/>
<rect x="862" y="163" width="1" height="14" fill="#000"/>
<rect x="860" y="170" width="5" height="3" fill="#000"/>
<rect x="861" y="171" width="3" height="1" fill="#fff"/>
<rect x="870" y="132" width="1" height="51" fill="#000"/>
<rect x="868" y="142" width="5" height="29" fill="#000"/>
<rect x="869" y="143" width="3" height="27" fill="#fff"/>
<rect x="878" y="138" width="1" height="14" fill="#000"/>
<rect x="876" y="142" width="5" height="1" fill="#000"/>
<rect x="886" y="139" width="1" height="84" fill="#000"/>
<rect x="884" y="143" width="5" height="78" fill="#000"/>
<rect x="894" y="196" width="1" height="61" fill="#000"/>
<rect x="892" y="219" width="5" height="33" fill="#000"/>
<rect x="902" y="230" width="1" height="33" fill="#000"/>
<rect x="900" y="235" width="5" height="17" fill="#000"/>
<rect x="901" y="236" width="3" height="15" fill="#fff"/>
<rect x="910" y="220" width="1" height="24" fill="#000"/>
<rect x="908" y="225" width="5" height="10" fill="#000"/>
<rect x="909" y="226" width="3" height="8" fill="#fff"/>
<rect x="918" y="208" width="1" height="35" fill="#000"/>
<rect x="916" y="210" width="5" height="16" fill="#000"/>
<rect x="917" y="211" width="3" height="14" fill="#fff"/>
<rect x="926" y="210" width="1" height="40" fill="#000"/>
<rect x="924" y="210" width="5" height="20" fill="#000"/>
<rect x="934" y="193" width="1" height="42" fill="#000"/>
<rect x="932" y="205" width="5" height="24" fill="#000"/>
<rect x="933" y="206" width="3" height="22" fill="#fff"/>
<rect x="942" y="161" width="1" height="48" fill="#000"/>
<rect x="940" y="194" width="5" height="12" fill="#000"/>
<rect x="941" y="195" width="3" height="10" fill="#fff"/>
<rect x="950" y="191" width="1" height="28" fill="#000"/>
<rect x="948" y="195" width="5" height="20" fill="#000"/>
<rect x="958" y="210" width="1" height="17" fill="#000"/>
<rect x="956" y="214" width="5" height="3" fill="#000"/>
<rect x="966" y="206" width="1" height="27" fill="#000"/>
<rect x="964" y="210" width="5" height="7" fill="#000"/>
<rect x="965" y="211" width="3" height="5" fill="#fff"/>
<rect x="974" y="201" width="1" height="23" fill="#000"/>
<rect x="972" y="205" width="5" height="5" fill="#000"/>
<rect x="973" y="206" width="3" height="3" fill="#fff"/>
<rect x="982" y="195" width="1" height="29" fill="#000"/>
<rect x="980" y="205" width="5" height="2" fill="#000"/>
<rect x="990" y="195" width="1" height="102" fill="#000"/>
<rect x="988" y="206" width="5" height="88" fill="#000"/>
<rect x="998" y="286" width="1" height="83" fill="#000"/>
<rect x="996" y="293" width="5" height="76" fill="#000"/>
<rect x="1006" y="317" width="1" height="52" fill="#000"/>
<rect x="1004" y="322" width="5" height="47" fill="#000"/>
<rect x="1005" y="323" width="3" height="45" fill="#fff"/>
<rect x="1014" y="317" width="1" height="33" fill="#000"/>
<rect x="1012" y="322" width="5" height="22" fill="#000"/>
<rect x="1022" y="325" width="1" height="39" fill="#000"/>
<rect x="1020" y="343" width="5" height="21" fill="#000"/>
<rect x="1030" y="334" width="1" height="37" fill="#000"/>
<rect x="1028" y="348" width="5" height="17" fill="#000"/>
<rect x="1029" y="349" width="3" height="15" fill="#fff"/>
<rect x="1038" y="342" width="1" height="76" fill="#000"/>
<rect x="1036" y="348" width="5" height="62" fill="#000"/>
<rect x="1046" y="404" width="1" height="26" fill="#000"/>
<rect x="1044" y="410" width="5" height="9" fill="#000"/>
<rect x="1054" y="393" width="1" height="29" fill="#000"/>
<rect x="1052" y="410" width="5" height="9" fill="#000"/>
<rect x="1053" y="411" width="3" height="7" fill="#fff"/>
<rect x="1062" y="401" width="1" height="87" fill="#000"/>
<rect x="1060" y="411" width="5" height="62" fill="#000"/>
<rect x="1070" y="450" width="1" height="35" fill="#000"/>
<rect x="1068" y="462" width="5" height="11" fill="#000"/>
<rect x="1069" y="463" width="3" height="9" fill="#fff"/>
<rect x="1078" y="431" width="1" height="47" fill="#000"/>
<rect x="1076" y="447" width="5" height="14" fill="#000"/>
<rect x="1077" y="448" width="3" height="12" fill="#fff"/>
<rect x="1086" y="444" width="1" height="69" fill="#000"/>
<rect x="1084" y="447" width="5" height="17" fill="#000"/>
<rect x="1094" y="405" width="1" height="69" fill="#000"/>
<rect x="1092" y="406" width="5" height="58" fill="#000"/>
<rect x="1093" y="407" width="3" height="56" fill="#fff"/>
<rect x="1102" y="375" width="1" height="21" fill="#000"/>
<rect x="1100" y="380" width="5" height="16" fill="#000"/>
<rect x="1101" y="381" width="3" height="14" fill="#fff"/>
<rect x="1110" y="347" width="1" height="39" fill="#000"/>
<rect x="1108" y="361" width="5" height="19" fill="#000"/>
<rect x="1109" y="362" width="3" height="17" fill="#fff"/>
<rect x="1118" y="342" width="1" height="23" fill="#000"/>
<rect x="1116" y="361" width="5" height="4" fill="#000"/>
<rect x="1126" y="345" width="1" height="34" fill="#000"/>
<rect x="1124" y="352" width="5" height="13" fill="#000"/>
<rect x="1125" y="353" width="3" height="11" fill="#fff"/>
<rect x="1134" y="325" width="1" height="32" fill="#000"/>
<rect x="1132" y="332" width="5" height="22" fill="#000"/>
<rect x="1133" y="333" width="3" height="20" fill="#fff"/>
<rect x="1142" y="327" width="1" height="15" fill="#000"/>
<rect x="1140" y="331" width="5" height="6" fill="#000"/>
<rect x="1150" y="326" width="1" height="13" fill="#000"/>
<rect x="1148" y="336" width="5" height="1" fill="#000"/>
<rect x="1158" y="260" width="1" height="99" fill="#000"/>
<rect x="1156" y="273" width="5" height="66" fill="#000"/>
<rect x="1157" y="274" width="3" height="64" fill="#fff"/>
<rect x="1166" y="269" width="1" height="40" fill="#000"/>
<rect x="1164" y="273" width="5" height="17" fill="#000"/>
<rect x="1174" y="285" width="1" height="62" fill="#000"/>
<rect x="1172" y="290" width="5" height="29" fill="#000"/>
<rect x="1182" y="312" width="1" height="46" fill="#000"/>
<rect x="1180" y="319" width="5" height="24" fill="#000"/>
<rect x="1190" y="326" width="1" height="23" fill="#000"/>
<rect x="1188" y="330" width="5" height="12" fill="#000"/>
<rect x="1189" y="331" width="3" height="10" fill="#fff"/>
<rect x="1198" y="326" width="1" height="15" fill="#000"/>
<rect x="1196" y="330" width="5" height="9" fill="#000"/>
<rect x="1206" y="303" width="1" height="49" fill="#000"/>
<rect x="1204" y="340" width="5" height="1" fill="#000"/>
<rect x="1214" y="337" width="1" height="59" fill="#000"/>
<rect x="1212" y="340" width="5" height="23" fill="#000"/>
<rect x="1222" y="341" width="1" height="32" fill="#000"/>
<rect x="1220" y="349" width="5" height="13" fill="#000"/>
<rect x="1221" y="350" width="3" height="11" fill="#fff"/>
<rect x="1230" y="342" width="1" height="53" fill="#000"/>
<rect x="1228" y="349" width="5" height="26" fill="#000"/>
<rect x="1238" y="370" width="1" height="26" fill="#000"/>
<rect x="1236" y="374" width="5" height="18" fill="#000"/>
<rect x="1246" y="363" width="1" height="33" fill="#000"/>
<rect x="1244" y="373" width="5" height="19" fill="#000"/>
<rect x="1245" y="374" width="3" height="17" fill="#fff"/>
<rect x="1254" y="357" width="1" height="69" fill="#000"/>
<rect x="1252" y="367" width="5" height="7" fill="#000"/>
<rect x="1253" y="368" width="3" height="5" fill="#fff"/>
<rect x="1262" y="341" width="1" height="34" fill="#000"/>
<rect x="1260" y="366" width="5" height="1" fill="#000"/>
<rect x="1270" y="366" width="1" height="29" fill="#000"/>
<rect x="1268" y="366" width="5" height="19" fill="#000"/>
<rect x="1278" y="376" width="1" height="60" fill="#000"/>
<rect x="1276" y="384" width="5" height="49" fill="#000"/>
<rect x="1286" y="398" width="1" height="35" fill="#000"/>
<rect x="1284" y="401" width="5" height="32" fill="#000"/>
<rect x="1285" y="402" width="3" height="30" fill="#fff"/>
<rect x="1294" y="392" width="1" height="61" fill="#000"/>
<rect x="1292" y="401" width="5" height="30" fill="#000"/>
<rect x="1302" y="429" width="1" height="61" fill="#000"/>
<rect x="1300" y="431" width="5" height="39" fill="#000"/>
<rect x="1310" y="451" width="1" height="24" fill="#000"/>
<rect x="1308" y="452" width="5" height="19" fill="#000"/>
<rect x="1309" y="453" width="3" height="17" fill="#fff"/>
<rect x="1318" y="424" width="1" height="38" fill="#000"/>
<rect x="1316" y="452" width="5" height="3" fill="#000"/>
<rect x="1326" y="451" width="1" height="42" fill="#000"/>
<rect x="1324" y="454" width="5" height="29" fill="#000"/>
<rect x="1334" y="458" width="1" height="31" fill="#000"/>
<rect x="1332" y="482" width="5" height="1" fill="#000"/>
<rect x="1342" y="461" width="1" height="24" fill="#000"/>
<rect x="1340" y="463" width="5" height="22" fill="#000"/>
<rect x="1341" y="464" width="3" height="20" fill="#fff"/>
<rect x="1350" y="438" width="1" height="38" fill="#000"/>
<rect x="1348" y="451" width="5" height="14" fill="#000"/>
<rect x="1349" y="452" width="3" height="12" fill="#fff"/>
<rect x="1358" y="433" width="1" height="43" fill="#000"/>
<rect x="1356" y="451" width="5" height="19" fill="#000"/>
<rect x="1366" y="458" width="1" height="52" fill="#000"/>
<rect x="1364" y="458" width="5" height="12" fill="#000"/>
<rect x="1365" y="459" width="3" height="10" fill="#fff"/>
<rect x="1374" y="429" width="1" height="57" fill="#000"/>
<rect x="1372" y="439" width="5" height="20" fill="#000"/>
<rect x="1373" y="440" width="3" height="18" fill="#fff"/>
<rect x="1382" y="437" width="1" height="43" fill="#000"/>
<rect x="1380" y="439" width="5" height="25" fill="#000"/>
<rect x="1390" y="414" width="1" height="49" fill="#000"/>
<rect x="1388" y="427" width="5" height="36" fill="#000"/>
<rect x="1389" y="428" width="3" height="34" fill="#fff"/>
<rect x="1398" y="421" width="1" height="49" fill="#000"/>
<rect x="1396" y="427" width="5" height="39" fill="#000"/>
<rect x="1406" y="446" width="1" height="37" fill="#000"/>
<rect x="1404" y="450" width="5" height="16" fill="#000"/>
<rect x="1405" y="451" width="3" height="14" fill="#fff"/>
<rect x="1414" y="404" width="1" height="57" fill="#000"/>
<rect x="1412" y="428" width="5" height="19" fill="#000"/>
<rect x="1413" y="429" width="3" height="17" fill="#fff"/>
<rect x="1422" y="423" width="1" height="42" fill="#000"/>
<rect x="1420" y="428" width="5" height="10" fill="#000"/>
<rect x="1430" y="436" width="1" height="26" fill="#000"/>
<rect x="1428" y="437" width="5" height="6" fill="#000"/>
<rect x="1438" y="442" width="1" height="11" fill="#000"/>
<rect x="1436" y="442" width="5" height="10" fill="#000"/>
</g>
<rect x="1294" y="446" width="209" height="4" fill="#00ff00" shape-rendering="crispEdges"/>
<line x1="1156" y1="295" x2="1361.3" y2="509.1" stroke="#ff0000" stroke-width="3.4" stroke-linecap="butt"/>
<polygon points="1366.5,514.5 1353.5,509.6 1359.1,506.8 1362.2,501.3" fill="#ff0000"/>
<line x1="1366" y1="512" x2="1415.4" y2="421.6" stroke="#ff0000" stroke-width="3.4" stroke-linecap="butt"/>
<polygon points="1419,415 1418.3,428.8 1413.9,424.3 1407.7,423.1" fill="#ff0000"/>
<line x1="1419" y1="417" x2="1457.2" y2="463.2" stroke="#ff0000" stroke-width="3.4" stroke-linecap="butt"/>
<polygon points="1462,469 1449.4,463.2 1455.2,460.8 1458.7,455.5" fill="#ff0000"/>
<rect x="1149" y="260" width="9" height="1" fill="#ff0000" shape-rendering="crispEdges"/>
<rect x="1087.5" y="251.5" width="61" height="18" fill="#fff" stroke="#ff0000" stroke-width="1" shape-rendering="crispEdges"/>
<text x="1089.5" y="267" font-family="Liberation Serif" font-size="18" fill="#ff0000" text-anchor="start" font-weight="normal" textLength="57.5" lengthAdjust="spacingAndGlyphs">115.050</text>
<rect x="1077" y="512" width="9" height="1" fill="#ff0000" shape-rendering="crispEdges"/>
<rect x="1015.5" y="503.5" width="61" height="18" fill="#fff" stroke="#ff0000" stroke-width="1" shape-rendering="crispEdges"/>
<text x="1017.7" y="519" font-family="Liberation Serif" font-size="18" fill="#ff0000" text-anchor="start" font-weight="normal" textLength="57.5" lengthAdjust="spacingAndGlyphs">113.475</text>
<rect x="1357" y="514" width="9" height="1" fill="#ff0000" shape-rendering="crispEdges"/>
<rect x="1295.5" y="505.5" width="61" height="18" fill="#fff" stroke="#ff0000" stroke-width="1" shape-rendering="crispEdges"/>
<text x="1297.7" y="521" font-family="Liberation Serif" font-size="18" fill="#ff0000" text-anchor="start" font-weight="normal" textLength="57.5" lengthAdjust="spacingAndGlyphs">113.463</text>
<rect x="1151" y="446" width="11" height="1" fill="#ff0000" shape-rendering="crispEdges"/>
<rect x="1161.5" y="434.5" width="73" height="24" fill="#fff" stroke="#ff0000" stroke-width="1" shape-rendering="crispEdges"/>
<text x="1163" y="455" font-family="Liberation Serif" font-size="23.5" fill="#ff0000" text-anchor="start" font-weight="normal" textLength="70" lengthAdjust="spacingAndGlyphs">113.888</text>
<g shape-rendering="crispEdges">
<rect x="1650" y="49" width="2" height="1" fill="#000" />
<rect x="1650" y="82" width="2" height="1" fill="#000" />
<rect x="1650" y="115" width="2" height="1" fill="#000" />
<rect x="1650" y="148" width="2" height="1" fill="#000" />
<rect x="1650" y="181" width="2" height="1" fill="#000" />
<rect x="1650" y="214" width="2" height="1" fill="#000" />
<rect x="1650" y="247" width="2" height="1" fill="#000" />
<rect x="1650" y="280" width="2" height="1" fill="#000" />
<rect x="1650" y="313" width="2" height="1" fill="#000" />
<rect x="1650" y="346" width="2" height="1" fill="#000" />
<rect x="1650" y="379" width="2" height="1" fill="#000" />
<rect x="1650" y="412" width="2" height="1" fill="#000" />
<rect x="1650" y="445" width="2" height="1" fill="#000" />
<rect x="1650" y="478" width="2" height="1" fill="#000" />
<rect x="1650" y="511" width="2" height="1" fill="#000" />
<rect x="1650" y="544" width="2" height="1" fill="#000" />
<rect x="1650" y="577" width="2" height="1" fill="#000" />
</g>
<text x="1655" y="53" font-family="Liberation Sans" font-size="10" fill="#000" text-anchor="start" font-weight="normal" stroke="#000" stroke-width="0.12" textLength="32.6" lengthAdjust="spacingAndGlyphs">116.370</text>
<text x="1655" y="86" font-family="Liberation Sans" font-size="10" fill="#000" text-anchor="start" font-weight="normal" stroke="#000" stroke-width="0.12" textLength="32.6" lengthAdjust="spacingAndGlyphs">116.165</text>
<text x="1655" y="119" font-family="Liberation Sans" font-size="10" fill="#000" text-anchor="start" font-weight="normal" stroke="#000" stroke-width="0.12" textLength="32.6" lengthAdjust="spacingAndGlyphs">115.960</text>
<text x="1655" y="152" font-family="Liberation Sans" font-size="10" fill="#000" text-anchor="start" font-weight="normal" stroke="#000" stroke-width="0.12" textLength="32.6" lengthAdjust="spacingAndGlyphs">115.750</text>
<text x="1655" y="185" font-family="Liberation Sans" font-size="10" fill="#000" text-anchor="start" font-weight="normal" stroke="#000" stroke-width="0.12" textLength="32.6" lengthAdjust="spacingAndGlyphs">115.545</text>
<text x="1655" y="218" font-family="Liberation Sans" font-size="10" fill="#000" text-anchor="start" font-weight="normal" stroke="#000" stroke-width="0.12" textLength="32.6" lengthAdjust="spacingAndGlyphs">115.340</text>
<text x="1655" y="251" font-family="Liberation Sans" font-size="10" fill="#000" text-anchor="start" font-weight="normal" stroke="#000" stroke-width="0.12" textLength="32.6" lengthAdjust="spacingAndGlyphs">115.130</text>
<text x="1655" y="284" font-family="Liberation Sans" font-size="10" fill="#000" text-anchor="start" font-weight="normal" stroke="#000" stroke-width="0.12" textLength="32.6" lengthAdjust="spacingAndGlyphs">114.925</text>
<text x="1655" y="317" font-family="Liberation Sans" font-size="10" fill="#000" text-anchor="start" font-weight="normal" stroke="#000" stroke-width="0.12" textLength="32.6" lengthAdjust="spacingAndGlyphs">114.720</text>
<text x="1655" y="350" font-family="Liberation Sans" font-size="10" fill="#000" text-anchor="start" font-weight="normal" stroke="#000" stroke-width="0.12" textLength="32.6" lengthAdjust="spacingAndGlyphs">114.510</text>
<text x="1655" y="383" font-family="Liberation Sans" font-size="10" fill="#000" text-anchor="start" font-weight="normal" stroke="#000" stroke-width="0.12" textLength="32.6" lengthAdjust="spacingAndGlyphs">114.305</text>
<text x="1655" y="416" font-family="Liberation Sans" font-size="10" fill="#000" text-anchor="start" font-weight="normal" stroke="#000" stroke-width="0.12" textLength="32.6" lengthAdjust="spacingAndGlyphs">114.100</text>
<text x="1655" y="449" font-family="Liberation Sans" font-size="10" fill="#000" text-anchor="start" font-weight="normal" stroke="#000" stroke-width="0.12" textLength="32.6" lengthAdjust="spacingAndGlyphs">113.890</text>
<text x="1655" y="482" font-family="Liberation Sans" font-size="10" fill="#000" text-anchor="start" font-weight="normal" stroke="#000" stroke-width="0.12" textLength="32.6" lengthAdjust="spacingAndGlyphs">113.685</text>
<text x="1655" y="515" font-family="Liberation Sans" font-size="10" fill="#000" text-anchor="start" font-weight="normal" stroke="#000" stroke-width="0.12" textLength="32.6" lengthAdjust="spacingAndGlyphs">113.480</text>
<text x="1655" y="548" font-family="Liberation Sans" font-size="10" fill="#000" text-anchor="start" font-weight="normal" stroke="#000" stroke-width="0.12" textLength="32.6" lengthAdjust="spacingAndGlyphs">113.270</text>
<text x="1655" y="581" font-family="Liberation Sans" font-size="10" fill="#000" text-anchor="start" font-weight="normal" stroke="#000" stroke-width="0.12" textLength="32.6" lengthAdjust="spacingAndGlyphs">113.065</text>
<rect x="1651" y="377" width="41" height="11" fill="#ff0000" shape-rendering="crispEdges"/>
<text x="1655" y="385.8" font-family="Liberation Sans" font-size="10" fill="#fff" text-anchor="start" font-weight="normal" stroke="#fff" stroke-width="0.12" textLength="32.6" lengthAdjust="spacingAndGlyphs">114.281</text>
<rect x="1651" y="399" width="41" height="11" fill="#ff0000" shape-rendering="crispEdges"/>
<text x="1655" y="407.8" font-family="Liberation Sans" font-size="10" fill="#fff" text-anchor="start" font-weight="normal" stroke="#fff" stroke-width="0.12" textLength="32.6" lengthAdjust="spacingAndGlyphs">114.144</text>
<rect x="1651" y="446" width="41" height="11" fill="#000" shape-rendering="crispEdges"/>
<text x="1655" y="454.8" font-family="Liberation Sans" font-size="10" fill="#fff" text-anchor="start" font-weight="normal" stroke="#fff" stroke-width="0.12" textLength="32.6" lengthAdjust="spacingAndGlyphs">113.855</text>
<rect x="1651" y="440" width="41" height="11" fill="#32cd32" shape-rendering="crispEdges"/>
<text x="1655" y="448.8" font-family="Liberation Sans" font-size="10" fill="#fff" text-anchor="start" font-weight="normal" stroke="#fff" stroke-width="0.12" textLength="32.6" lengthAdjust="spacingAndGlyphs">113.888</text>
<rect x="1651" y="467" width="41" height="11" fill="#0000ff" shape-rendering="crispEdges"/>
<text x="1655" y="475.8" font-family="Liberation Sans" font-size="10" fill="#fff" text-anchor="start" font-weight="normal" stroke="#fff" stroke-width="0.12" textLength="32.6" lengthAdjust="spacingAndGlyphs">113.719</text>
<rect x="1651" y="493" width="41" height="11" fill="#0000ff" shape-rendering="crispEdges"/>
<text x="1655" y="501.8" font-family="Liberation Sans" font-size="10" fill="#fff" text-anchor="start" font-weight="normal" stroke="#fff" stroke-width="0.12" textLength="32.6" lengthAdjust="spacingAndGlyphs">113.556</text>
<g shape-rendering="crispEdges">
<rect x="1650" y="584" width="2" height="1" fill="#000" />
<rect x="1650" y="656" width="2" height="1" fill="#000" />
<rect x="1650" y="751" width="2" height="1" fill="#000" />
<rect x="1650" y="756" width="2" height="1" fill="#000" />
<rect x="1650" y="790" width="2" height="1" fill="#000" />
<rect x="1650" y="841" width="2" height="1" fill="#000" />
<rect x="1650" y="902" width="2" height="1" fill="#000" />
<rect x="1650" y="927" width="2" height="1" fill="#000" />
</g>
<text x="1652.6" y="593" font-family="Liberation Sans" font-size="10" fill="#000" text-anchor="start" font-weight="normal" stroke="#000" stroke-width="0.12" textLength="27.4" lengthAdjust="spacingAndGlyphs">0.3584</text>
<text x="1652.6" y="659.5" font-family="Liberation Sans" font-size="10" fill="#000" text-anchor="start" font-weight="normal" stroke="#000" stroke-width="0.12" textLength="17.6" lengthAdjust="spacingAndGlyphs">0.00</text>
<text x="1652.4" y="748.6" font-family="Liberation Sans" font-size="10" fill="#000" text-anchor="start" font-weight="normal" stroke="#000" stroke-width="0.12" textLength="31.6" lengthAdjust="spacingAndGlyphs">-0.4734</text>
<text x="1653" y="764.9" font-family="Liberation Sans" font-size="10" fill="#000" text-anchor="start" font-weight="normal" stroke="#000" stroke-width="0.12" textLength="15.2" lengthAdjust="spacingAndGlyphs">100</text>
<text x="1652.2" y="793.7" font-family="Liberation Sans" font-size="10" fill="#000" text-anchor="start" font-weight="normal" stroke="#000" stroke-width="0.12" textLength="10.4" lengthAdjust="spacingAndGlyphs">80</text>
<text x="1652.2" y="844.6" font-family="Liberation Sans" font-size="10" fill="#000" text-anchor="start" font-weight="normal" stroke="#000" stroke-width="0.12" textLength="10.4" lengthAdjust="spacingAndGlyphs">50</text>
<text x="1652.4" y="905.6" font-family="Liberation Sans" font-size="10" fill="#000" text-anchor="start" font-weight="normal" stroke="#000" stroke-width="0.12" textLength="10.4" lengthAdjust="spacingAndGlyphs">15</text>
<text x="1652.2" y="925.2" font-family="Liberation Sans" font-size="10" fill="#000" text-anchor="start" font-weight="normal" stroke="#000" stroke-width="0.12" textLength="5.2" lengthAdjust="spacingAndGlyphs">0</text>
<g shape-rendering="crispEdges">
<rect x="6" y="645" width="1" height="12" fill="#c0c0c0"/>
<rect x="14" y="645" width="1" height="12" fill="#c0c0c0"/>
<rect x="22" y="644" width="1" height="13" fill="#c0c0c0"/>
<rect x="30" y="642" width="1" height="15" fill="#c0c0c0"/>
<rect x="38" y="638" width="1" height="19" fill="#c0c0c0"/>
<rect x="46" y="634" width="1" height="23" fill="#c0c0c0"/>
<rect x="54" y="630" width="1" height="27" fill="#c0c0c0"/>
<rect x="62" y="628" width="1" height="29" fill="#c0c0c0"/>
<rect x="70" y="626" width="1" height="31" fill="#c0c0c0"/>
<rect x="78" y="632" width="1" height="25" fill="#c0c0c0"/>
<rect x="86" y="638" width="1" height="19" fill="#c0c0c0"/>
<rect x="94" y="643" width="1" height="14" fill="#c0c0c0"/>
<rect x="102" y="649" width="1" height="8" fill="#c0c0c0"/>
<rect x="110" y="652" width="1" height="5" fill="#c0c0c0"/>
<rect x="118" y="656" width="1" height="1" fill="#c0c0c0"/>
<rect x="126" y="656" width="1" height="1" fill="#c0c0c0"/>
<rect x="134" y="656" width="1" height="1" fill="#c0c0c0"/>
<rect x="142" y="656" width="1" height="4" fill="#c0c0c0"/>
<rect x="150" y="656" width="1" height="6" fill="#c0c0c0"/>
<rect x="158" y="656" width="1" height="9" fill="#c0c0c0"/>
<rect x="166" y="656" width="1" height="8" fill="#c0c0c0"/>
<rect x="174" y="656" width="1" height="11" fill="#c0c0c0"/>
<rect x="182" y="656" width="1" height="8" fill="#c0c0c0"/>
<rect x="190" y="656" width="1" height="6" fill="#c0c0c0"/>
<rect x="198" y="656" width="1" height="6" fill="#c0c0c0"/>
<rect x="206" y="656" width="1" height="5" fill="#c0c0c0"/>
<rect x="214" y="656" width="1" height="3" fill="#c0c0c0"/>
<rect x="222" y="653" width="1" height="4" fill="#c0c0c0"/>
<rect x="230" y="647" width="1" height="10" fill="#c0c0c0"/>
<rect x="238" y="644" width="1" height="13" fill="#c0c0c0"/>
<rect x="246" y="640" width="1" height="17" fill="#c0c0c0"/>
<rect x="254" y="636" width="1" height="21" fill="#c0c0c0"/>
<rect x="262" y="633" width="1" height="24" fill="#c0c0c0"/>
<rect x="270" y="629" width="1" height="28" fill="#c0c0c0"/>
<rect x="278" y="628" width="1" height="29" fill="#c0c0c0"/>
<rect x="286" y="629" width="1" height="28" fill="#c0c0c0"/>
<rect x="294" y="629" width="1" height="28" fill="#c0c0c0"/>
<rect x="302" y="628" width="1" height="29" fill="#c0c0c0"/>
<rect x="310" y="627" width="1" height="30" fill="#c0c0c0"/>
<rect x="318" y="625" width="1" height="32" fill="#c0c0c0"/>
<rect x="326" y="623" width="1" height="34" fill="#c0c0c0"/>
<rect x="334" y="621" width="1" height="36" fill="#c0c0c0"/>
<rect x="342" y="623" width="1" height="34" fill="#c0c0c0"/>
<rect x="350" y="623" width="1" height="34" fill="#c0c0c0"/>
<rect x="358" y="625" width="1" height="32" fill="#c0c0c0"/>
<rect x="366" y="625" width="1" height="32" fill="#c0c0c0"/>
<rect x="374" y="627" width="1" height="30" fill="#c0c0c0"/>
<rect x="382" y="628" width="1" height="29" fill="#c0c0c0"/>
<rect x="390" y="629" width="1" height="28" fill="#c0c0c0"/>
<rect x="398" y="629" width="1" height="28" fill="#c0c0c0"/>
<rect x="406" y="625" width="1" height="32" fill="#c0c0c0"/>
<rect x="414" y="620" width="1" height="37" fill="#c0c0c0"/>
<rect x="422" y="616" width="1" height="41" fill="#c0c0c0"/>
<rect x="430" y="615" width="1" height="42" fill="#c0c0c0"/>
<rect x="438" y="613" width="1" height="44" fill="#c0c0c0"/>
<rect x="446" y="613" width="1" height="44" fill="#c0c0c0"/>
<rect x="454" y="613" width="1" height="44" fill="#c0c0c0"/>
<rect x="462" y="615" width="1" height="42" fill="#c0c0c0"/>
<rect x="470" y="616" width="1" height="41" fill="#c0c0c0"/>
<rect x="478" y="618" width="1" height="39" fill="#c0c0c0"/>
<rect x="486" y="620" width="1" height="37" fill="#c0c0c0"/>
<rect x="494" y="620" width="1" height="37" fill="#c0c0c0"/>
<rect x="502" y="621" width="1" height="36" fill="#c0c0c0"/>
<rect x="510" y="621" width="1" height="36" fill="#c0c0c0"/>
<rect x="518" y="621" width="1" height="36" fill="#c0c0c0"/>
<rect x="526" y="622" width="1" height="35" fill="#c0c0c0"/>
<rect x="534" y="620" width="1" height="37" fill="#c0c0c0"/>
<rect x="542" y="620" width="1" height="37" fill="#c0c0c0"/>
<rect x="550" y="620" width="1" height="37" fill="#c0c0c0"/>
<rect x="558" y="619" width="1" height="38" fill="#c0c0c0"/>
<rect x="566" y="620" width="1" height="37" fill="#c0c0c0"/>
<rect x="574" y="622" width="1" height="35" fill="#c0c0c0"/>
<rect x="582" y="623" width="1" height="34" fill="#c0c0c0"/>
<rect x="590" y="624" width="1" height="33" fill="#c0c0c0"/>
<rect x="598" y="625" width="1" height="32" fill="#c0c0c0"/>
<rect x="606" y="626" width="1" height="31" fill="#c0c0c0"/>
<rect x="614" y="628" width="1" height="29" fill="#c0c0c0"/>
<rect x="622" y="629" width="1" height="28" fill="#c0c0c0"/>
<rect x="630" y="627" width="1" height="30" fill="#c0c0c0"/>
<rect x="638" y="627" width="1" height="30" fill="#c0c0c0"/>
<rect x="646" y="630" width="1" height="27" fill="#c0c0c0"/>
<rect x="654" y="629" width="1" height="28" fill="#c0c0c0"/>
<rect x="662" y="627" width="1" height="30" fill="#c0c0c0"/>
<rect x="670" y="627" width="1" height="30" fill="#c0c0c0"/>
<rect x="678" y="622" width="1" height="35" fill="#c0c0c0"/>
<rect x="686" y="617" width="1" height="40" fill="#c0c0c0"/>
<rect x="694" y="607" width="1" height="50" fill="#c0c0c0"/>
<rect x="702" y="600" width="1" height="57" fill="#c0c0c0"/>
<rect x="710" y="596" width="1" height="61" fill="#c0c0c0"/>
<rect x="718" y="592" width="1" height="65" fill="#c0c0c0"/>
<rect x="726" y="593" width="1" height="64" fill="#c0c0c0"/>
<rect x="734" y="593" width="1" height="64" fill="#c0c0c0"/>
<rect x="742" y="601" width="1" height="56" fill="#c0c0c0"/>
<rect x="750" y="605" width="1" height="52" fill="#c0c0c0"/>
<rect x="758" y="603" width="1" height="54" fill="#c0c0c0"/>
<rect x="766" y="602" width="1" height="55" fill="#c0c0c0"/>
<rect x="774" y="607" width="1" height="50" fill="#c0c0c0"/>
<rect x="782" y="611" width="1" height="46" fill="#c0c0c0"/>
<rect x="790" y="616" width="1" height="41" fill="#c0c0c0"/>
<rect x="798" y="621" width="1" height="36" fill="#c0c0c0"/>
<rect x="806" y="622" width="1" height="35" fill="#c0c0c0"/>
<rect x="814" y="624" width="1" height="33" fill="#c0c0c0"/>
<rect x="822" y="627" width="1" height="30" fill="#c0c0c0"/>
<rect x="830" y="629" width="1" height="28" fill="#c0c0c0"/>
<rect x="838" y="632" width="1" height="25" fill="#c0c0c0"/>
<rect x="846" y="638" width="1" height="19" fill="#c0c0c0"/>
<rect x="854" y="643" width="1" height="14" fill="#c0c0c0"/>
<rect x="862" y="647" width="1" height="10" fill="#c0c0c0"/>
<rect x="870" y="647" width="1" height="10" fill="#c0c0c0"/>
<rect x="878" y="647" width="1" height="10" fill="#c0c0c0"/>
<rect x="886" y="656" width="1" height="1" fill="#c0c0c0"/>
<rect x="894" y="656" width="1" height="8" fill="#c0c0c0"/>
<rect x="902" y="656" width="1" height="14" fill="#c0c0c0"/>
<rect x="910" y="656" width="1" height="17" fill="#c0c0c0"/>
<rect x="918" y="656" width="1" height="18" fill="#c0c0c0"/>
<rect x="926" y="656" width="1" height="19" fill="#c0c0c0"/>
<rect x="934" y="656" width="1" height="19" fill="#c0c0c0"/>
<rect x="942" y="656" width="1" height="18" fill="#c0c0c0"/>
<rect x="950" y="656" width="1" height="18" fill="#c0c0c0"/>
<rect x="958" y="656" width="1" height="17" fill="#c0c0c0"/>
<rect x="966" y="656" width="1" height="17" fill="#c0c0c0"/>
<rect x="974" y="656" width="1" height="16" fill="#c0c0c0"/>
<rect x="982" y="656" width="1" height="15" fill="#c0c0c0"/>
<rect x="990" y="656" width="1" height="23" fill="#c0c0c0"/>
<rect x="998" y="656" width="1" height="36" fill="#c0c0c0"/>
<rect x="1006" y="656" width="1" height="42" fill="#c0c0c0"/>
<rect x="1014" y="656" width="1" height="47" fill="#c0c0c0"/>
<rect x="1022" y="656" width="1" height="53" fill="#c0c0c0"/>
<rect x="1030" y="656" width="1" height="56" fill="#c0c0c0"/>
<rect x="1038" y="656" width="1" height="64" fill="#c0c0c0"/>
<rect x="1046" y="656" width="1" height="70" fill="#c0c0c0"/>
<rect x="1054" y="656" width="1" height="74" fill="#c0c0c0"/>
<rect x="1062" y="656" width="1" height="82" fill="#c0c0c0"/>
<rect x="1070" y="656" width="1" height="86" fill="#c0c0c0"/>
<rect x="1078" y="656" width="1" height="87" fill="#c0c0c0"/>
<rect x="1086" y="656" width="1" height="88" fill="#c0c0c0"/>
<rect x="1094" y="656" width="1" height="82" fill="#c0c0c0"/>
<rect x="1102" y="656" width="1" height="74" fill="#c0c0c0"/>
<rect x="1110" y="656" width="1" height="65" fill="#c0c0c0"/>
<rect x="1118" y="656" width="1" height="56" fill="#c0c0c0"/>
<rect x="1126" y="656" width="1" height="50" fill="#c0c0c0"/>
<rect x="1134" y="656" width="1" height="40" fill="#c0c0c0"/>
<rect x="1142" y="656" width="1" height="34" fill="#c0c0c0"/>
<rect x="1150" y="656" width="1" height="28" fill="#c0c0c0"/>
<rect x="1158" y="656" width="1" height="17" fill="#c0c0c0"/>
<rect x="1166" y="656" width="1" height="9" fill="#c0c0c0"/>
<rect x="1174" y="656" width="1" height="7" fill="#c0c0c0"/>
<rect x="1182" y="656" width="1" height="6" fill="#c0c0c0"/>
<rect x="1190" y="656" width="1" height="5" fill="#c0c0c0"/>
<rect x="1198" y="656" width="1" height="4" fill="#c0c0c0"/>
<rect x="1206" y="656" width="1" height="4" fill="#c0c0c0"/>
<rect x="1214" y="656" width="1" height="8" fill="#c0c0c0"/>
<rect x="1222" y="656" width="1" height="9" fill="#c0c0c0"/>
<rect x="1230" y="656" width="1" height="9" fill="#c0c0c0"/>
<rect x="1238" y="656" width="1" height="14" fill="#c0c0c0"/>
<rect x="1246" y="656" width="1" height="15" fill="#c0c0c0"/>
<rect x="1254" y="656" width="1" height="15" fill="#c0c0c0"/>
<rect x="1262" y="656" width="1" height="11" fill="#c0c0c0"/>
<rect x="1270" y="656" width="1" height="16" fill="#c0c0c0"/>
<rect x="1278" y="656" width="1" height="22" fill="#c0c0c0"/>
<rect x="1286" y="656" width="1" height="23" fill="#c0c0c0"/>
<rect x="1294" y="656" width="1" height="26" fill="#c0c0c0"/>
<rect x="1302" y="656" width="1" height="32" fill="#c0c0c0"/>
<rect x="1310" y="656" width="1" height="35" fill="#c0c0c0"/>
<rect x="1318" y="656" width="1" height="37" fill="#c0c0c0"/>
<rect x="1326" y="656" width="1" height="42" fill="#c0c0c0"/>
<rect x="1334" y="656" width="1" height="43" fill="#c0c0c0"/>
<rect x="1342" y="656" width="1" height="44" fill="#c0c0c0"/>
<rect x="1350" y="656" width="1" height="42" fill="#c0c0c0"/>
<rect x="1358" y="656" width="1" height="40" fill="#c0c0c0"/>
<rect x="1366" y="656" width="1" height="38" fill="#c0c0c0"/>
<rect x="1374" y="656" width="1" height="37" fill="#c0c0c0"/>
<rect x="1382" y="656" width="1" height="35" fill="#c0c0c0"/>
<rect x="1390" y="656" width="1" height="31" fill="#c0c0c0"/>
<rect x="1398" y="656" width="1" height="28" fill="#c0c0c0"/>
<rect x="1406" y="656" width="1" height="26" fill="#c0c0c0"/>
<rect x="1414" y="656" width="1" height="23" fill="#c0c0c0"/>
<rect x="1422" y="656" width="1" height="21" fill="#c0c0c0"/>
<rect x="1430" y="656" width="1" height="19" fill="#c0c0c0"/>
<rect x="1438" y="656" width="1" height="19" fill="#c0c0c0"/>
</g>
<polyline points="2.0,649.6 15.0,648.6 27.0,646.6 37.0,644.6 74.0,635.7 82.0,634.0 100.0,634.4 105.8,635.3 111.4,636.5 117.5,638.3 123.5,640.9 129.4,643.4 135.4,645.9 141.5,648.8 147.6,651.4 153.4,654.1 159.5,656.4 165.6,658.4 171.4,659.4 177.5,660.5 198.0,663.5 223.0,661.7 233.0,659.2 247.6,653.8 267.5,645.6 287.0,637.0 309.6,630.8 327.0,626.6 351.7,624.1 381.4,623.3 410.0,625.0 447.0,620.4 472.0,615.9 496.7,615.9 533.8,619.6 583.4,620.4 608.0,621.6 632.9,624.6 640.0,625.3 651.8,626.2 663.6,627.4 675.4,627.4 687.2,625.3 693.1,623.5 700.1,621.5 704.9,619.4 710.8,616.8 716.7,613.5 723.7,609.4 729.6,606.6 734.3,604.6 741.4,601.5 747.3,599.9 753.2,598.7 759.1,598.2 766.2,597.3 770.9,598.2 776.8,599.1 783.9,600.5 789.8,602.3 795.7,604.3 801.6,606.6 807.5,609.4 813.4,611.4 819.2,613.2 825.1,615.3 831.0,617.6 838.1,620.3 844.8,622.1 857.1,628.3 869.5,633.2 879.4,636.5 894.3,644.4 906.7,651.8 919.0,658.0 931.4,664.2 943.8,667.9 958.7,673.6 990.9,674.1 1005.7,679.1 1023.1,686.5 1037.9,695.2 1052.8,706.3 1067.6,717.4 1082.5,727.3 1094.9,733.5 1107.3,734.8 1119.7,733.0 1132.0,727.3 1146.9,715.7 1161.8,700.1 1176.6,685.2 1191.5,677.8 1206.3,669.6 1218.7,664.9 1231.1,663.7 1244.9,664.9 1262.2,665.4 1272.1,669.2 1287.0,671.6 1299.3,675.3 1311.7,679.1 1324.1,684.0 1336.5,688.5 1348.9,692.7 1361.3,694.4 1378.6,695.9 1391.0,695.9 1403.4,692.7 1415.7,689.0 1428.1,686.5 1438.0,683.0" fill="none" stroke="#ff0000" stroke-width="1" stroke-dasharray="3 3" shape-rendering="crispEdges"/>
<text x="-6.4" y="594.6" font-family="Liberation Sans" font-size="10" fill="#000" text-anchor="start" font-weight="normal" stroke="#000" stroke-width="0.12" textLength="133.8" lengthAdjust="spacingAndGlyphs">MACD(12,26,9) -0.0942 -0.1351</text>
<line x1="1345" y1="701.5" x2="1435.0" y2="678.3" stroke="#ff0000" stroke-width="3.5" stroke-linecap="butt"/>
<polygon points="1442,676.5 1431.6,684.3 1432.1,679.0 1429.1,674.7" fill="#ff0000"/>
<g shape-rendering="crispEdges">
<line x1="3" y1="790.5" x2="1649" y2="790.5" stroke="#c0c0c0" stroke-width="1" stroke-dasharray="3 3"/>
<line x1="3" y1="841.5" x2="1649" y2="841.5" stroke="#c0c0c0" stroke-width="1" stroke-dasharray="3 3"/>
<line x1="3" y1="902.5" x2="1649" y2="902.5" stroke="#c0c0c0" stroke-width="1" stroke-dasharray="3 3"/>
</g>
<polyline points="-2.0,829.2 6.0,828.3 14.0,831.7 22.0,826.8 30.0,824.8 38.0,814.4 46.0,808.7 54.0,809.4 62.0,810.9 70.0,808.4 78.0,843.6 86.0,851.5 94.0,848.6 102.0,856.0 110.0,846.6 118.0,856.0 126.0,846.1 134.0,842.4 142.0,851.5 150.0,852.0 158.0,855.2 166.0,841.6 174.0,854.0 182.0,839.2 190.0,841.1 198.0,841.1 206.0,841.1 214.0,838.7 222.0,821.3 230.0,820.6 238.0,828.0 246.0,823.1 254.0,821.3 262.0,818.4 270.0,814.4 278.0,823.8 286.0,826.8 294.0,828.0 302.0,821.3 310.0,818.8 318.0,814.9 326.0,812.4 334.0,811.4 342.0,823.8 350.0,821.3 358.0,820.6 366.0,820.6 374.0,824.8 382.0,824.8 390.0,819.3 398.0,816.4 406.0,805.7 414.0,797.3 422.0,795.8 430.0,808.2 438.0,804.0 446.0,808.9 454.0,809.4 462.0,818.1 470.0,814.4 478.0,820.1 486.0,816.4 494.0,813.1 502.0,814.4 510.0,810.2 518.0,809.4 526.0,810.2 534.0,804.0 542.0,800.3 550.0,802.0 558.0,799.0 566.0,813.1 574.0,813.1 582.0,810.7 590.0,806.5 598.0,810.2 606.0,809.4 614.0,819.3 622.0,814.9 630.0,804.5 638.0,803.2 646.0,833.7 654.0,817.4 662.0,815.6 670.0,815.6 678.0,797.5 686.0,795.8 694.0,786.7 702.0,786.7 710.0,789.6 718.0,788.4 726.0,804.0 734.0,803.2 742.0,831.2 750.0,826.8 758.0,811.9 766.0,814.4 774.0,830.0 782.0,830.5 790.0,834.2 798.0,837.2 806.0,827.5 814.0,832.2 822.0,832.2 830.0,831.2 838.0,835.4 846.0,846.1 854.0,851.0 862.0,847.1 870.0,836.2 878.0,836.2 886.0,860.9 894.0,868.4 902.0,861.4 910.0,857.7 918.0,852.0 926.0,858.5 934.0,848.6 942.0,845.3 950.0,851.0 958.0,852.0 966.0,849.1 974.0,847.1 982.0,848.6 990.0,871.3 998.0,884.2 1006.0,868.4 1014.0,871.3 1022.0,875.1 1030.0,869.6 1038.0,878.8 1046.0,880.0 1054.0,877.5 1062.0,885.0 1070.0,880.8 1078.0,876.3 1086.0,879.3 1094.0,860.2 1102.0,855.2 1110.0,850.3 1118.0,847.8 1126.0,847.1 1134.0,839.2 1142.0,841.1 1150.0,841.1 1158.0,824.3 1166.0,829.7 1174.0,837.9 1182.0,843.6 1190.0,841.1 1198.0,844.1 1206.0,844.1 1214.0,851.0 1222.0,846.6 1230.0,853.5 1238.0,857.7 1246.0,851.1 1254.0,849.5 1262.0,849.5 1270.0,853.9 1278.0,867.6 1286.0,855.0 1294.0,862.7 1302.0,870.4 1310.0,864.0 1318.0,864.0 1326.0,870.1 1334.0,870.1 1342.0,862.7 1350.0,857.7 1358.0,862.1 1366.0,857.7 1374.0,850.3 1382.0,857.2 1390.0,844.3 1398.0,854.4 1406.0,848.9 1414.0,844.3 1422.0,845.6 1430.0,846.7 1438.0,850.3" fill="none" stroke="#1e90ff" stroke-width="1" shape-rendering="crispEdges"/>
<text x="-6.6" y="766.8" font-family="Liberation Sans" font-size="10" fill="#000" text-anchor="start" font-weight="normal" stroke="#000" stroke-width="0.12" textLength="68.6" lengthAdjust="spacingAndGlyphs">RSI(14) 45.2014</text>
<line x1="1331" y1="858.5" x2="1395.2" y2="845.8" stroke="#ff0000" stroke-width="3.8" stroke-linecap="butt"/>
<polygon points="1402,844.5 1391.7,851.6 1392.4,846.4 1389.7,841.8" fill="#ff0000"/>
<line x1="1395" y1="844.8" x2="1448.8" y2="847.2" stroke="#ff0000" stroke-width="3.8" stroke-linecap="butt"/>
<polygon points="1456,847.5 1443.8,852.0 1445.8,847.0 1444.2,842.0" fill="#ff0000"/>
<g shape-rendering="crispEdges">
<rect x="54" y="929" width="1" height="3" fill="#000" />
<rect x="118" y="929" width="1" height="3" fill="#000" />
<rect x="182" y="929" width="1" height="3" fill="#000" />
<rect x="246" y="929" width="1" height="3" fill="#000" />
<rect x="310" y="929" width="1" height="3" fill="#000" />
<rect x="374" y="929" width="1" height="3" fill="#000" />
<rect x="438" y="929" width="1" height="3" fill="#000" />
<rect x="502" y="929" width="1" height="3" fill="#000" />
<rect x="566" y="929" width="1" height="3" fill="#000" />
<rect x="630" y="929" width="1" height="3" fill="#000" />
<rect x="694" y="929" width="1" height="3" fill="#000" />
<rect x="758" y="929" width="1" height="3" fill="#000" />
<rect x="822" y="929" width="1" height="3" fill="#000" />
<rect x="886" y="929" width="1" height="3" fill="#000" />
<rect x="950" y="929" width="1" height="3" fill="#000" />
<rect x="1014" y="929" width="1" height="3" fill="#000" />
<rect x="1078" y="929" width="1" height="3" fill="#000" />
<rect x="1142" y="929" width="1" height="3" fill="#000" />
<rect x="1206" y="929" width="1" height="3" fill="#000" />
<rect x="1270" y="929" width="1" height="3" fill="#000" />
<rect x="1334" y="929" width="1" height="3" fill="#000" />
<rect x="1398" y="929" width="1" height="3" fill="#000" />
</g>
<text x="53.7" y="941.3" font-family="Liberation Sans" font-size="10" fill="#000" text-anchor="start" font-weight="normal" stroke="#000" stroke-width="0.12" textLength="53.8" lengthAdjust="spacingAndGlyphs">16 Dec 00:00</text>
<text x="117.7" y="941.3" font-family="Liberation Sans" font-size="10" fill="#000" text-anchor="start" font-weight="normal" stroke="#000" stroke-width="0.12" textLength="53.8" lengthAdjust="spacingAndGlyphs">17 Dec 08:00</text>
<text x="181.7" y="941.3" font-family="Liberation Sans" font-size="10" fill="#000" text-anchor="start" font-weight="normal" stroke="#000" stroke-width="0.12" textLength="53.8" lengthAdjust="spacingAndGlyphs">20 Dec 16:00</text>
<text x="245.7" y="941.3" font-family="Liberation Sans" font-size="10" fill="#000" text-anchor="start" font-weight="normal" stroke="#000" stroke-width="0.12" textLength="53.8" lengthAdjust="spacingAndGlyphs">22 Dec 00:00</text>
<text x="309.7" y="941.3" font-family="Liberation Sans" font-size="10" fill="#000" text-anchor="start" font-weight="normal" stroke="#000" stroke-width="0.12" textLength="53.8" lengthAdjust="spacingAndGlyphs">23 Dec 08:00</text>
<text x="373.7" y="941.3" font-family="Liberation Sans" font-size="10" fill="#000" text-anchor="start" font-weight="normal" stroke="#000" stroke-width="0.12" textLength="53.8" lengthAdjust="spacingAndGlyphs">24 Dec 16:00</text>
<text x="437.7" y="941.3" font-family="Liberation Sans" font-size="10" fill="#000" text-anchor="start" font-weight="normal" stroke="#000" stroke-width="0.12" textLength="53.8" lengthAdjust="spacingAndGlyphs">28 Dec 00:00</text>
<text x="501.7" y="941.3" font-family="Liberation Sans" font-size="10" fill="#000" text-anchor="start" font-weight="normal" stroke="#000" stroke-width="0.12" textLength="53.8" lengthAdjust="spacingAndGlyphs">29 Dec 08:00</text>
<text x="565.7" y="941.3" font-family="Liberation Sans" font-size="10" fill="#000" text-anchor="start" font-weight="normal" stroke="#000" stroke-width="0.12" textLength="53.8" lengthAdjust="spacingAndGlyphs">30 Dec 16:00</text>
<text x="629.7" y="941.3" font-family="Liberation Sans" font-size="10" fill="#000" text-anchor="start" font-weight="normal" stroke="#000" stroke-width="0.12" textLength="47.3" lengthAdjust="spacingAndGlyphs">3 Jan 00:00</text>
<text x="693.7" y="941.3" font-family="Liberation Sans" font-size="10" fill="#000" text-anchor="start" font-weight="normal" stroke="#000" stroke-width="0.12" textLength="47.3" lengthAdjust="spacingAndGlyphs">4 Jan 08:00</text>
<text x="757.7" y="941.3" font-family="Liberation Sans" font-size="10" fill="#000" text-anchor="start" font-weight="normal" stroke="#000" stroke-width="0.12" textLength="47.3" lengthAdjust="spacingAndGlyphs">5 Jan 16:00</text>
<text x="821.7" y="941.3" font-family="Liberation Sans" font-size="10" fill="#000" text-anchor="start" font-weight="normal" stroke="#000" stroke-width="0.12" textLength="47.3" lengthAdjust="spacingAndGlyphs">7 Jan 00:00</text>
<text x="885.7" y="941.3" font-family="Liberation Sans" font-size="10" fill="#000" text-anchor="start" font-weight="normal" stroke="#000" stroke-width="0.12" textLength="52.3" lengthAdjust="spacingAndGlyphs">10 Jan 08:00</text>
<text x="949.7" y="941.3" font-family="Liberation Sans" font-size="10" fill="#000" text-anchor="start" font-weight="normal" stroke="#000" stroke-width="0.12" textLength="51.6" lengthAdjust="spacingAndGlyphs">11 Jan 16:00</text>
<text x="1013.7" y="941.3" font-family="Liberation Sans" font-size="10" fill="#000" text-anchor="start" font-weight="normal" stroke="#000" stroke-width="0.12" textLength="52.3" lengthAdjust="spacingAndGlyphs">13 Jan 00:00</text>
<text x="1077.7" y="941.3" font-family="Liberation Sans" font-size="10" fill="#000" text-anchor="start" font-weight="normal" stroke="#000" stroke-width="0.12" textLength="52.3" lengthAdjust="spacingAndGlyphs">14 Jan 08:00</text>
<text x="1141.7" y="941.3" font-family="Liberation Sans" font-size="10" fill="#000" text-anchor="start" font-weight="normal" stroke="#000" stroke-width="0.12" textLength="52.3" lengthAdjust="spacingAndGlyphs">17 Jan 16:00</text>
<text x="1205.7" y="941.3" font-family="Liberation Sans" font-size="10" fill="#000" text-anchor="start" font-weight="normal" stroke="#000" stroke-width="0.12" textLength="52.3" lengthAdjust="spacingAndGlyphs">19 Jan 00:00</text>
<text x="1269.7" y="941.3" font-family="Liberation Sans" font-size="10" fill="#000" text-anchor="start" font-weight="normal" stroke="#000" stroke-width="0.12" textLength="52.3" lengthAdjust="spacingAndGlyphs">20 Jan 08:00</text>
<text x="1333.7" y="941.3" font-family="Liberation Sans" font-size="10" fill="#000" text-anchor="start" font-weight="normal" stroke="#000" stroke-width="0.12" textLength="52.3" lengthAdjust="spacingAndGlyphs">21 Jan 16:00</text>
<text x="1397.7" y="941.3" font-family="Liberation Sans" font-size="10" fill="#000" text-anchor="start" font-weight="normal" stroke="#000" stroke-width="0.12" textLength="52.3" lengthAdjust="spacingAndGlyphs">25 Jan 00:00</text>
<text x="-10.5" y="941.3" font-family="Liberation Sans" font-size="10" fill="#000" text-anchor="start" font-weight="normal" stroke="#000" stroke-width="0.12" textLength="51.3" lengthAdjust="spacingAndGlyphs">15 Dec 2021</text>
<text x="5" y="38.9" font-family="Liberation Sans" font-size="10" fill="#000" text-anchor="start" font-weight="normal" stroke="#000" stroke-width="0.12" textLength="200.8" lengthAdjust="spacingAndGlyphs">USDJPY-,H4  113.913 113.936 113.849 113.855</text>
<defs>
<linearGradient id="gtop" x1="0" y1="0" x2="0" y2="1"><stop offset="0" stop-color="#5a5aff"/><stop offset="1" stop-color="#3434e6"/></linearGradient>
<linearGradient id="gbot" x1="0" y1="0" x2="0" y2="1"><stop offset="0" stop-color="#2626e0"/><stop offset="1" stop-color="#0000a8"/></linearGradient>
<linearGradient id="gbtn" x1="0" y1="0" x2="0" y2="1"><stop offset="0" stop-color="#f4f4f4"/><stop offset="1" stop-color="#d4d4d4"/></linearGradient>
</defs>
<g shape-rendering="crispEdges">
<rect x="0" y="47" width="45" height="24" fill="url(#gtop)" />
<rect x="160" y="47" width="52" height="24" fill="url(#gtop)" />
<rect x="0" y="71" width="102" height="33" fill="url(#gbot)" />
<rect x="104" y="71" width="108" height="33" fill="url(#gbot)" />
<rect x="0" y="70" width="41" height="1" fill="#7a7aff" />
<rect x="164" y="70" width="44" height="1" fill="#7a7aff" />
<rect x="47" y="47" width="111" height="22" fill="#a0a0a0" />
<rect x="48" y="48" width="109" height="20" fill="#fff" />
<rect x="48" y="48" width="20" height="20" fill="url(#gbtn)" />
<rect x="68" y="48" width="1" height="20" fill="#b0b0b0" />
<rect x="136" y="48" width="1" height="20" fill="#b0b0b0" />
<rect x="137" y="48" width="20" height="20" fill="url(#gbtn)" />
</g>
<polygon points="55,56 61,56 58,59" fill="#5060b0"/>
<polygon points="144,59 150,59 147,56" fill="#5060b0"/>
<text x="132" y="62" font-family="Liberation Sans" font-size="12" fill="#000" text-anchor="end" font-weight="normal" >1.00</text>
<text x="5" y="63" font-family="Liberation Sans" font-size="12.5" fill="#fff" text-anchor="start" font-weight="normal" textLength="26.5" lengthAdjust="spacingAndGlyphs">SELL</text>
<text x="173.5" y="63" font-family="Liberation Sans" font-size="12.5" fill="#fff" text-anchor="start" font-weight="normal" textLength="24" lengthAdjust="spacingAndGlyphs">BUY</text>
<text x="17" y="98" font-family="Liberation Sans" font-size="12" fill="#fff" text-anchor="start" font-weight="bold" >113</text>
<text x="40" y="98.5" font-family="Liberation Sans" font-size="32" fill="#fff" text-anchor="start" font-weight="normal" >85</text>
<text x="80.5" y="82" font-family="Liberation Sans" font-size="10" fill="#fff" text-anchor="start" font-weight="bold" stroke="#fff" stroke-width="0.12" >5</text>
<text x="126" y="98" font-family="Liberation Sans" font-size="12" fill="#fff" text-anchor="start" font-weight="bold" >113</text>
<text x="151" y="98.5" font-family="Liberation Sans" font-size="32" fill="#fff" text-anchor="start" font-weight="normal" >87</text>
<text x="190.5" y="82" font-family="Liberation Sans" font-size="10" fill="#fff" text-anchor="start" font-weight="bold" stroke="#fff" stroke-width="0.12" >4</text>
</svg>
</body></html>
